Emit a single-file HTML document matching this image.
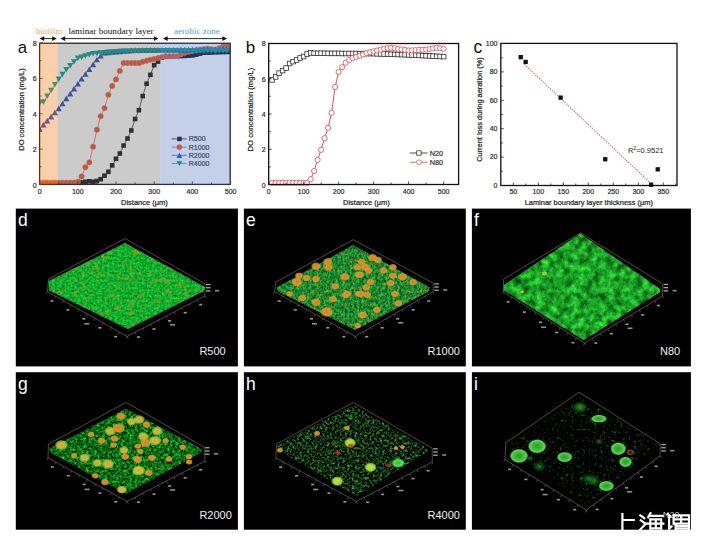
<!DOCTYPE html>
<html><head><meta charset="utf-8"><style>
html,body{margin:0;padding:0;background:#fff;}
body{width:701px;height:541px;overflow:hidden;}
svg{display:block;}
</style></head><body>
<svg width="701" height="541" viewBox="0 0 701 541">
<defs>
<filter id="nG" x="0" y="0" width="100%" height="100%" filterUnits="userSpaceOnUse" color-interpolation-filters="sRGB">
 <feTurbulence type="fractalNoise" baseFrequency="0.4" numOctaves="2" seed="3"/>
 <feColorMatrix values="0.3 0.15 0 0 -0.17  0 0.6 0 0 0.38  0 0.2 0 0 0.08  0 0 0 0 1"/>
 <feGaussianBlur stdDeviation="0.45"/>
</filter>
<filter id="nY" x="0" y="0" width="100%" height="100%" filterUnits="userSpaceOnUse" color-interpolation-filters="sRGB">
 <feTurbulence type="fractalNoise" baseFrequency="0.18" numOctaves="3" seed="11"/>
 <feColorMatrix values="0 0 0 0 0.62  0 0 0 0 0.6  0 0 0 0 0.12  4.5 0 0 0 -2.5"/>
</filter>
<filter id="nE" x="0" y="0" width="100%" height="100%" filterUnits="userSpaceOnUse" color-interpolation-filters="sRGB">
 <feTurbulence type="fractalNoise" baseFrequency="0.42 0.3" numOctaves="3" seed="21"/>
 <feColorMatrix values="0.45 0.25 0 0 -0.25  0 0.8 0 0 0.13  0 0.25 0 0 0.06  0 0 0 0 1"/>
 <feGaussianBlur stdDeviation="0.4"/>
</filter>
<filter id="nF" x="0" y="0" width="100%" height="100%" filterUnits="userSpaceOnUse" color-interpolation-filters="sRGB">
 <feTurbulence type="fractalNoise" baseFrequency="0.14" numOctaves="4" seed="8"/>
 <feColorMatrix values="0 0.3 0 0 -0.04  0 1.05 0 0 0.1  0 0.3 0 0 0.0  0 0 0 0 1"/>
 <feGaussianBlur stdDeviation="0.3"/>
</filter>
<filter id="nGg" x="0" y="0" width="100%" height="100%" filterUnits="userSpaceOnUse" color-interpolation-filters="sRGB">
 <feTurbulence type="fractalNoise" baseFrequency="0.37" numOctaves="3" seed="4"/>
 <feColorMatrix values="0.35 0.25 0 0 -0.27  0 1.25 0 0 -0.2  0 0.25 0 0 -0.05  0 0 0 0 1"/>
 <feGaussianBlur stdDeviation="0.4"/>
</filter>
<filter id="nH" x="0" y="0" width="100%" height="100%" filterUnits="userSpaceOnUse" color-interpolation-filters="sRGB">
 <feTurbulence type="fractalNoise" baseFrequency="0.4" numOctaves="3" seed="12"/>
 <feColorMatrix values="0.6 0.3 0 0 -0.42  0 1.7 0 0 -0.7  0 0.3 0 0 -0.1  0 0 0 0 1"/>
 <feGaussianBlur stdDeviation="0.35"/>
</filter>
<filter id="nI" x="0" y="0" width="100%" height="100%" filterUnits="userSpaceOnUse" color-interpolation-filters="sRGB">
 <feTurbulence type="fractalNoise" baseFrequency="0.35" numOctaves="3" seed="15"/>
 <feColorMatrix values="0 0.3 0 0 -0.22  0 1.7 0 0 -1.0  0 0.3 0 0 -0.17  0 0 0 0 1"/>
 <feGaussianBlur stdDeviation="0.4"/>
</filter>
<filter id="nO" x="0" y="0" width="100%" height="100%" filterUnits="userSpaceOnUse" color-interpolation-filters="sRGB">
 <feTurbulence type="fractalNoise" baseFrequency="0.3" numOctaves="2" seed="31"/>
 <feColorMatrix values="0 0 0 0 0.9  0 0 0 0 0.5  0 0 0 0 0.12  5 0 0 0 -3.0"/>
 <feGaussianBlur stdDeviation="0.4"/>
</filter>
<filter id="bl1"><feGaussianBlur stdDeviation="0.6"/></filter>
<radialGradient id="gO"><stop offset="0" stop-color="#e86a22"/><stop offset="0.45" stop-color="#ee8a26"/><stop offset="0.75" stop-color="#c8a830" stop-opacity="0.75"/><stop offset="1" stop-color="#80a030" stop-opacity="0"/></radialGradient>
<radialGradient id="gY"><stop offset="0" stop-color="#e89030"/><stop offset="0.45" stop-color="#d8c040" stop-opacity="0.95"/><stop offset="0.78" stop-color="#a0c840" stop-opacity="0.7"/><stop offset="1" stop-color="#60b030" stop-opacity="0"/></radialGradient>
<radialGradient id="gGr"><stop offset="0" stop-color="#38b838"/><stop offset="0.65" stop-color="#58e050"/><stop offset="0.85" stop-color="#40c040" stop-opacity="0.8"/><stop offset="1" stop-color="#30b030" stop-opacity="0"/></radialGradient>
<radialGradient id="gRing"><stop offset="0" stop-color="#2a9a2a"/><stop offset="0.5" stop-color="#40b83a"/><stop offset="0.8" stop-color="#5ada50"/><stop offset="1" stop-color="#40c040" stop-opacity="0"/></radialGradient>
<radialGradient id="gGd"><stop offset="0" stop-color="#2a9a2a" stop-opacity="0.8"/><stop offset="1" stop-color="#1a6a1a" stop-opacity="0.1"/></radialGradient>
<radialGradient id="gYG"><stop offset="0" stop-color="#d0e040"/><stop offset="0.7" stop-color="#a0d040"/><stop offset="1" stop-color="#60b030" stop-opacity="0.3"/></radialGradient>
<radialGradient id="gR"><stop offset="0" stop-color="#e03020"/><stop offset="1" stop-color="#a02010" stop-opacity="0.3"/></radialGradient>
<radialGradient id="gBr"><stop offset="0" stop-color="#602010" stop-opacity="0.3"/><stop offset="0.7" stop-color="#a04020"/><stop offset="1" stop-color="#602010" stop-opacity="0.2"/></radialGradient>
</defs>
<rect width="701" height="541" fill="#fff"/>
<clipPath id="clipA"><rect x="39.6" y="42.3" width="190.6" height="142.1"/></clipPath>
<g clip-path="url(#clipA)">
<polyline points="39.6,183.6 43.4,183.6 47.2,183.5 51.1,183.5 54.9,183.4 58.7,183.4 62.5,183.3 66.3,183.2 70.2,183.2 74.0,183.1 77.8,183.1 81.6,182.4 85.4,181.8 89.3,181.3 93.1,181.8 96.9,181.0 100.7,179.2 104.5,175.7 108.4,171.8 112.2,165.4 116.0,158.8 119.8,153.5 123.6,145.6 127.5,138.5 131.3,130.5 135.1,119.0 138.9,110.2 142.7,96.0 146.6,83.7 150.4,74.8 154.2,65.1 158.0,61.6 161.8,57.7 165.7,56.8 169.5,56.6 173.3,56.4 177.1,56.2 180.9,56.1 184.8,55.9 188.6,55.7 192.4,55.5 196.2,54.7 200.0,53.7 203.9,52.7 207.7,52.6 211.5,52.5 215.3,52.3 219.1,52.2 223.0,52.1 226.8,52.0 230.6,51.8" fill="none" stroke="#111" stroke-width="0.7"/>
<rect x="37.3" y="181.3" width="4.6" height="4.6" fill="#111" stroke="none" stroke-width="0"/>
<rect x="41.1" y="181.3" width="4.6" height="4.6" fill="#111" stroke="none" stroke-width="0"/>
<rect x="44.9" y="181.2" width="4.6" height="4.6" fill="#111" stroke="none" stroke-width="0"/>
<rect x="48.8" y="181.2" width="4.6" height="4.6" fill="#111" stroke="none" stroke-width="0"/>
<rect x="52.6" y="181.1" width="4.6" height="4.6" fill="#111" stroke="none" stroke-width="0"/>
<rect x="56.4" y="181.1" width="4.6" height="4.6" fill="#111" stroke="none" stroke-width="0"/>
<rect x="60.2" y="181.0" width="4.6" height="4.6" fill="#111" stroke="none" stroke-width="0"/>
<rect x="64.0" y="180.9" width="4.6" height="4.6" fill="#111" stroke="none" stroke-width="0"/>
<rect x="67.9" y="180.9" width="4.6" height="4.6" fill="#111" stroke="none" stroke-width="0"/>
<rect x="71.7" y="180.8" width="4.6" height="4.6" fill="#111" stroke="none" stroke-width="0"/>
<rect x="75.5" y="180.8" width="4.6" height="4.6" fill="#111" stroke="none" stroke-width="0"/>
<rect x="79.3" y="180.1" width="4.6" height="4.6" fill="#111" stroke="none" stroke-width="0"/>
<rect x="83.1" y="179.5" width="4.6" height="4.6" fill="#111" stroke="none" stroke-width="0"/>
<rect x="87.0" y="179.0" width="4.6" height="4.6" fill="#111" stroke="none" stroke-width="0"/>
<rect x="90.8" y="179.5" width="4.6" height="4.6" fill="#111" stroke="none" stroke-width="0"/>
<rect x="94.6" y="178.7" width="4.6" height="4.6" fill="#111" stroke="none" stroke-width="0"/>
<rect x="98.4" y="176.9" width="4.6" height="4.6" fill="#111" stroke="none" stroke-width="0"/>
<rect x="102.2" y="173.4" width="4.6" height="4.6" fill="#111" stroke="none" stroke-width="0"/>
<rect x="106.1" y="169.5" width="4.6" height="4.6" fill="#111" stroke="none" stroke-width="0"/>
<rect x="109.9" y="163.1" width="4.6" height="4.6" fill="#111" stroke="none" stroke-width="0"/>
<rect x="113.7" y="156.5" width="4.6" height="4.6" fill="#111" stroke="none" stroke-width="0"/>
<rect x="117.5" y="151.2" width="4.6" height="4.6" fill="#111" stroke="none" stroke-width="0"/>
<rect x="121.3" y="143.3" width="4.6" height="4.6" fill="#111" stroke="none" stroke-width="0"/>
<rect x="125.2" y="136.2" width="4.6" height="4.6" fill="#111" stroke="none" stroke-width="0"/>
<rect x="129.0" y="128.2" width="4.6" height="4.6" fill="#111" stroke="none" stroke-width="0"/>
<rect x="132.8" y="116.7" width="4.6" height="4.6" fill="#111" stroke="none" stroke-width="0"/>
<rect x="136.6" y="107.9" width="4.6" height="4.6" fill="#111" stroke="none" stroke-width="0"/>
<rect x="140.4" y="93.8" width="4.6" height="4.6" fill="#111" stroke="none" stroke-width="0"/>
<rect x="144.3" y="81.4" width="4.6" height="4.6" fill="#111" stroke="none" stroke-width="0"/>
<rect x="148.1" y="72.5" width="4.6" height="4.6" fill="#111" stroke="none" stroke-width="0"/>
<rect x="151.9" y="62.8" width="4.6" height="4.6" fill="#111" stroke="none" stroke-width="0"/>
<rect x="155.7" y="59.3" width="4.6" height="4.6" fill="#111" stroke="none" stroke-width="0"/>
<rect x="159.5" y="55.4" width="4.6" height="4.6" fill="#111" stroke="none" stroke-width="0"/>
<rect x="163.4" y="54.5" width="4.6" height="4.6" fill="#111" stroke="none" stroke-width="0"/>
<rect x="167.2" y="54.3" width="4.6" height="4.6" fill="#111" stroke="none" stroke-width="0"/>
<rect x="171.0" y="54.1" width="4.6" height="4.6" fill="#111" stroke="none" stroke-width="0"/>
<rect x="174.8" y="53.9" width="4.6" height="4.6" fill="#111" stroke="none" stroke-width="0"/>
<rect x="178.6" y="53.8" width="4.6" height="4.6" fill="#111" stroke="none" stroke-width="0"/>
<rect x="182.5" y="53.6" width="4.6" height="4.6" fill="#111" stroke="none" stroke-width="0"/>
<rect x="186.3" y="53.4" width="4.6" height="4.6" fill="#111" stroke="none" stroke-width="0"/>
<rect x="190.1" y="53.2" width="4.6" height="4.6" fill="#111" stroke="none" stroke-width="0"/>
<rect x="193.9" y="52.4" width="4.6" height="4.6" fill="#111" stroke="none" stroke-width="0"/>
<rect x="197.7" y="51.4" width="4.6" height="4.6" fill="#111" stroke="none" stroke-width="0"/>
<rect x="201.6" y="50.4" width="4.6" height="4.6" fill="#111" stroke="none" stroke-width="0"/>
<rect x="205.4" y="50.3" width="4.6" height="4.6" fill="#111" stroke="none" stroke-width="0"/>
<rect x="209.2" y="50.2" width="4.6" height="4.6" fill="#111" stroke="none" stroke-width="0"/>
<rect x="213.0" y="50.0" width="4.6" height="4.6" fill="#111" stroke="none" stroke-width="0"/>
<rect x="216.8" y="49.9" width="4.6" height="4.6" fill="#111" stroke="none" stroke-width="0"/>
<rect x="220.7" y="49.8" width="4.6" height="4.6" fill="#111" stroke="none" stroke-width="0"/>
<rect x="224.5" y="49.7" width="4.6" height="4.6" fill="#111" stroke="none" stroke-width="0"/>
<rect x="228.3" y="49.5" width="4.6" height="4.6" fill="#111" stroke="none" stroke-width="0"/>
<polyline points="39.6,182.7 43.4,182.7 47.2,182.7 51.1,182.7 54.9,182.7 58.7,182.7 62.5,182.7 66.3,182.7 70.2,182.7 74.0,182.7 77.8,181.8 81.6,176.5 85.4,167.2 89.3,162.4 93.1,146.8 96.9,129.8 100.7,116.2 104.5,108.1 108.4,94.8 112.2,86.0 116.0,79.4 119.8,70.9 123.6,63.0 127.5,63.0 131.3,63.0 135.1,63.0 138.9,63.0 142.7,61.8 146.6,60.7 150.4,59.8 154.2,58.9 158.0,58.0 161.8,57.1 165.7,56.2 169.5,56.2 173.3,56.1 177.1,56.1 180.9,54.4 184.8,52.7 188.6,51.8 192.4,50.9 196.2,50.3 200.0,49.7 203.9,49.2 207.7,48.6 211.5,49.2 215.3,49.7 219.1,48.1 223.0,46.5 226.8,46.3 230.6,46.2" fill="none" stroke="#e2502c" stroke-width="0.7"/>
<circle cx="39.6" cy="182.7" r="2.7" fill="#e2502c" stroke="#f07a5a" stroke-width="0.5"/>
<circle cx="43.4" cy="182.7" r="2.7" fill="#e2502c" stroke="#f07a5a" stroke-width="0.5"/>
<circle cx="47.2" cy="182.7" r="2.7" fill="#e2502c" stroke="#f07a5a" stroke-width="0.5"/>
<circle cx="51.1" cy="182.7" r="2.7" fill="#e2502c" stroke="#f07a5a" stroke-width="0.5"/>
<circle cx="54.9" cy="182.7" r="2.7" fill="#e2502c" stroke="#f07a5a" stroke-width="0.5"/>
<circle cx="58.7" cy="182.7" r="2.7" fill="#e2502c" stroke="#f07a5a" stroke-width="0.5"/>
<circle cx="62.5" cy="182.7" r="2.7" fill="#e2502c" stroke="#f07a5a" stroke-width="0.5"/>
<circle cx="66.3" cy="182.7" r="2.7" fill="#e2502c" stroke="#f07a5a" stroke-width="0.5"/>
<circle cx="70.2" cy="182.7" r="2.7" fill="#e2502c" stroke="#f07a5a" stroke-width="0.5"/>
<circle cx="74.0" cy="182.7" r="2.7" fill="#e2502c" stroke="#f07a5a" stroke-width="0.5"/>
<circle cx="77.8" cy="181.8" r="2.7" fill="#e2502c" stroke="#f07a5a" stroke-width="0.5"/>
<circle cx="81.6" cy="176.5" r="2.7" fill="#e2502c" stroke="#f07a5a" stroke-width="0.5"/>
<circle cx="85.4" cy="167.2" r="2.7" fill="#e2502c" stroke="#f07a5a" stroke-width="0.5"/>
<circle cx="89.3" cy="162.4" r="2.7" fill="#e2502c" stroke="#f07a5a" stroke-width="0.5"/>
<circle cx="93.1" cy="146.8" r="2.7" fill="#e2502c" stroke="#f07a5a" stroke-width="0.5"/>
<circle cx="96.9" cy="129.8" r="2.7" fill="#e2502c" stroke="#f07a5a" stroke-width="0.5"/>
<circle cx="100.7" cy="116.2" r="2.7" fill="#e2502c" stroke="#f07a5a" stroke-width="0.5"/>
<circle cx="104.5" cy="108.1" r="2.7" fill="#e2502c" stroke="#f07a5a" stroke-width="0.5"/>
<circle cx="108.4" cy="94.8" r="2.7" fill="#e2502c" stroke="#f07a5a" stroke-width="0.5"/>
<circle cx="112.2" cy="86.0" r="2.7" fill="#e2502c" stroke="#f07a5a" stroke-width="0.5"/>
<circle cx="116.0" cy="79.4" r="2.7" fill="#e2502c" stroke="#f07a5a" stroke-width="0.5"/>
<circle cx="119.8" cy="70.9" r="2.7" fill="#e2502c" stroke="#f07a5a" stroke-width="0.5"/>
<circle cx="123.6" cy="63.0" r="2.7" fill="#e2502c" stroke="#f07a5a" stroke-width="0.5"/>
<circle cx="127.5" cy="63.0" r="2.7" fill="#e2502c" stroke="#f07a5a" stroke-width="0.5"/>
<circle cx="131.3" cy="63.0" r="2.7" fill="#e2502c" stroke="#f07a5a" stroke-width="0.5"/>
<circle cx="135.1" cy="63.0" r="2.7" fill="#e2502c" stroke="#f07a5a" stroke-width="0.5"/>
<circle cx="138.9" cy="63.0" r="2.7" fill="#e2502c" stroke="#f07a5a" stroke-width="0.5"/>
<circle cx="142.7" cy="61.8" r="2.7" fill="#e2502c" stroke="#f07a5a" stroke-width="0.5"/>
<circle cx="146.6" cy="60.7" r="2.7" fill="#e2502c" stroke="#f07a5a" stroke-width="0.5"/>
<circle cx="150.4" cy="59.8" r="2.7" fill="#e2502c" stroke="#f07a5a" stroke-width="0.5"/>
<circle cx="154.2" cy="58.9" r="2.7" fill="#e2502c" stroke="#f07a5a" stroke-width="0.5"/>
<circle cx="158.0" cy="58.0" r="2.7" fill="#e2502c" stroke="#f07a5a" stroke-width="0.5"/>
<circle cx="161.8" cy="57.1" r="2.7" fill="#e2502c" stroke="#f07a5a" stroke-width="0.5"/>
<circle cx="165.7" cy="56.2" r="2.7" fill="#e2502c" stroke="#f07a5a" stroke-width="0.5"/>
<circle cx="169.5" cy="56.2" r="2.7" fill="#e2502c" stroke="#f07a5a" stroke-width="0.5"/>
<circle cx="173.3" cy="56.1" r="2.7" fill="#e2502c" stroke="#f07a5a" stroke-width="0.5"/>
<circle cx="177.1" cy="56.1" r="2.7" fill="#e2502c" stroke="#f07a5a" stroke-width="0.5"/>
<circle cx="180.9" cy="54.4" r="2.7" fill="#e2502c" stroke="#f07a5a" stroke-width="0.5"/>
<circle cx="184.8" cy="52.7" r="2.7" fill="#e2502c" stroke="#f07a5a" stroke-width="0.5"/>
<circle cx="188.6" cy="51.8" r="2.7" fill="#e2502c" stroke="#f07a5a" stroke-width="0.5"/>
<circle cx="192.4" cy="50.9" r="2.7" fill="#e2502c" stroke="#f07a5a" stroke-width="0.5"/>
<circle cx="196.2" cy="50.3" r="2.7" fill="#e2502c" stroke="#f07a5a" stroke-width="0.5"/>
<circle cx="200.0" cy="49.7" r="2.7" fill="#e2502c" stroke="#f07a5a" stroke-width="0.5"/>
<circle cx="203.9" cy="49.2" r="2.7" fill="#e2502c" stroke="#f07a5a" stroke-width="0.5"/>
<circle cx="207.7" cy="48.6" r="2.7" fill="#e2502c" stroke="#f07a5a" stroke-width="0.5"/>
<circle cx="211.5" cy="49.2" r="2.7" fill="#e2502c" stroke="#f07a5a" stroke-width="0.5"/>
<circle cx="215.3" cy="49.7" r="2.7" fill="#e2502c" stroke="#f07a5a" stroke-width="0.5"/>
<circle cx="219.1" cy="48.1" r="2.7" fill="#e2502c" stroke="#f07a5a" stroke-width="0.5"/>
<circle cx="223.0" cy="46.5" r="2.7" fill="#e2502c" stroke="#f07a5a" stroke-width="0.5"/>
<circle cx="226.8" cy="46.3" r="2.7" fill="#e2502c" stroke="#f07a5a" stroke-width="0.5"/>
<circle cx="230.6" cy="46.2" r="2.7" fill="#e2502c" stroke="#f07a5a" stroke-width="0.5"/>
<polyline points="39.6,128.8 43.4,124.7 47.2,120.6 51.1,116.6 54.9,112.5 58.7,108.4 62.5,103.5 66.3,98.5 70.2,93.6 74.0,88.6 77.8,83.7 81.6,78.8 85.4,74.0 89.3,69.2 93.1,64.4 96.9,59.5 100.7,55.7 104.5,52.7 108.4,52.4 112.2,52.0 116.0,51.7 119.8,51.4 123.6,51.1 127.5,50.7 131.3,50.4 135.1,50.1 138.9,50.0 142.7,50.0 146.6,49.9 150.4,49.9 154.2,49.9 158.0,49.8 161.8,49.8 165.7,49.8 169.5,49.7 173.3,49.7 177.1,49.7 180.9,49.6 184.8,49.6 188.6,49.6 192.4,49.5 196.2,49.5 200.0,49.5 203.9,49.4 207.7,49.4 211.5,49.3 215.3,49.3 219.1,49.3 223.0,49.2 226.8,49.2 230.6,49.2" fill="none" stroke="#2c46b4" stroke-width="0.7"/>
<polygon points="36.5,131.6 42.7,131.6 39.6,126.0" fill="#2c46b4"/>
<polygon points="40.3,127.5 46.5,127.5 43.4,121.9" fill="#2c46b4"/>
<polygon points="44.1,123.4 50.3,123.4 47.2,117.8" fill="#2c46b4"/>
<polygon points="48.0,119.4 54.2,119.4 51.1,113.8" fill="#2c46b4"/>
<polygon points="51.8,115.3 58.0,115.3 54.9,109.7" fill="#2c46b4"/>
<polygon points="55.6,111.2 61.8,111.2 58.7,105.6" fill="#2c46b4"/>
<polygon points="59.4,106.3 65.6,106.3 62.5,100.7" fill="#2c46b4"/>
<polygon points="63.2,101.3 69.4,101.3 66.3,95.7" fill="#2c46b4"/>
<polygon points="67.1,96.4 73.3,96.4 70.2,90.8" fill="#2c46b4"/>
<polygon points="70.9,91.4 77.1,91.4 74.0,85.8" fill="#2c46b4"/>
<polygon points="74.7,86.5 80.9,86.5 77.8,80.9" fill="#2c46b4"/>
<polygon points="78.5,81.6 84.7,81.6 81.6,76.1" fill="#2c46b4"/>
<polygon points="82.3,76.8 88.5,76.8 85.4,71.2" fill="#2c46b4"/>
<polygon points="86.2,72.0 92.4,72.0 89.3,66.4" fill="#2c46b4"/>
<polygon points="90.0,67.2 96.2,67.2 93.1,61.6" fill="#2c46b4"/>
<polygon points="93.8,62.3 100.0,62.3 96.9,56.8" fill="#2c46b4"/>
<polygon points="97.6,58.4 103.8,58.4 100.7,52.9" fill="#2c46b4"/>
<polygon points="101.4,55.5 107.6,55.5 104.5,49.9" fill="#2c46b4"/>
<polygon points="105.3,55.2 111.5,55.2 108.4,49.6" fill="#2c46b4"/>
<polygon points="109.1,54.8 115.3,54.8 112.2,49.3" fill="#2c46b4"/>
<polygon points="112.9,54.5 119.1,54.5 116.0,48.9" fill="#2c46b4"/>
<polygon points="116.7,54.2 122.9,54.2 119.8,48.6" fill="#2c46b4"/>
<polygon points="120.5,53.8 126.7,53.8 123.6,48.3" fill="#2c46b4"/>
<polygon points="124.4,53.5 130.6,53.5 127.5,47.9" fill="#2c46b4"/>
<polygon points="128.2,53.2 134.4,53.2 131.3,47.6" fill="#2c46b4"/>
<polygon points="132.0,52.8 138.2,52.8 135.1,47.3" fill="#2c46b4"/>
<polygon points="135.8,52.8 142.0,52.8 138.9,47.2" fill="#2c46b4"/>
<polygon points="139.6,52.8 145.8,52.8 142.7,47.2" fill="#2c46b4"/>
<polygon points="143.5,52.7 149.7,52.7 146.6,47.2" fill="#2c46b4"/>
<polygon points="147.3,52.7 153.5,52.7 150.4,47.1" fill="#2c46b4"/>
<polygon points="151.1,52.7 157.3,52.7 154.2,47.1" fill="#2c46b4"/>
<polygon points="154.9,52.6 161.1,52.6 158.0,47.1" fill="#2c46b4"/>
<polygon points="158.7,52.6 164.9,52.6 161.8,47.0" fill="#2c46b4"/>
<polygon points="162.6,52.6 168.8,52.6 165.7,47.0" fill="#2c46b4"/>
<polygon points="166.4,52.5 172.6,52.5 169.5,46.9" fill="#2c46b4"/>
<polygon points="170.2,52.5 176.4,52.5 173.3,46.9" fill="#2c46b4"/>
<polygon points="174.0,52.5 180.2,52.5 177.1,46.9" fill="#2c46b4"/>
<polygon points="177.8,52.4 184.0,52.4 180.9,46.8" fill="#2c46b4"/>
<polygon points="181.7,52.4 187.9,52.4 184.8,46.8" fill="#2c46b4"/>
<polygon points="185.5,52.4 191.7,52.4 188.6,46.8" fill="#2c46b4"/>
<polygon points="189.3,52.3 195.5,52.3 192.4,46.7" fill="#2c46b4"/>
<polygon points="193.1,52.3 199.3,52.3 196.2,46.7" fill="#2c46b4"/>
<polygon points="196.9,52.2 203.1,52.2 200.0,46.7" fill="#2c46b4"/>
<polygon points="200.8,52.2 207.0,52.2 203.9,46.6" fill="#2c46b4"/>
<polygon points="204.6,52.2 210.8,52.2 207.7,46.6" fill="#2c46b4"/>
<polygon points="208.4,52.1 214.6,52.1 211.5,46.6" fill="#2c46b4"/>
<polygon points="212.2,52.1 218.4,52.1 215.3,46.5" fill="#2c46b4"/>
<polygon points="216.0,52.1 222.2,52.1 219.1,46.5" fill="#2c46b4"/>
<polygon points="219.9,52.0 226.1,52.0 223.0,46.5" fill="#2c46b4"/>
<polygon points="223.7,52.0 229.9,52.0 226.8,46.4" fill="#2c46b4"/>
<polygon points="227.5,52.0 233.7,52.0 230.6,46.4" fill="#2c46b4"/>
<polyline points="39.6,103.1 43.4,102.1 47.2,96.3 51.1,90.5 54.9,84.7 58.7,79.2 62.5,74.5 66.3,69.8 70.2,65.8 74.0,62.0 77.8,58.4 81.6,57.2 85.4,56.0 89.3,54.8 93.1,53.8 96.9,53.5 100.7,53.1 104.5,52.8 108.4,52.4 112.2,52.1 116.0,51.7 119.8,51.4 123.6,51.4 127.5,51.3 131.3,51.2 135.1,51.1 138.9,51.1 142.7,51.0 146.6,50.9 150.4,50.8 154.2,50.8 158.0,50.8 161.8,50.8 165.7,50.8 169.5,50.8 173.3,50.8 177.1,50.8 180.9,50.8 184.8,50.8 188.6,50.8 192.4,50.8 196.2,50.8 200.0,50.8 203.9,50.8 207.7,50.8 211.5,50.8 215.3,50.8 219.1,50.8 223.0,50.8 226.8,50.8 230.6,50.8" fill="none" stroke="#009a96" stroke-width="0.7"/>
<polygon points="36.5,100.3 42.7,100.3 39.6,105.9" fill="#009a96"/>
<polygon points="40.3,99.3 46.5,99.3 43.4,104.9" fill="#009a96"/>
<polygon points="44.1,93.5 50.3,93.5 47.2,99.1" fill="#009a96"/>
<polygon points="48.0,87.7 54.2,87.7 51.1,93.3" fill="#009a96"/>
<polygon points="51.8,82.0 58.0,82.0 54.9,87.5" fill="#009a96"/>
<polygon points="55.6,76.4 61.8,76.4 58.7,82.0" fill="#009a96"/>
<polygon points="59.4,71.7 65.6,71.7 62.5,77.3" fill="#009a96"/>
<polygon points="63.2,67.0 69.4,67.0 66.3,72.5" fill="#009a96"/>
<polygon points="67.1,63.0 73.3,63.0 70.2,68.6" fill="#009a96"/>
<polygon points="70.9,59.2 77.1,59.2 74.0,64.8" fill="#009a96"/>
<polygon points="74.7,55.6 80.9,55.6 77.8,61.2" fill="#009a96"/>
<polygon points="78.5,54.4 84.7,54.4 81.6,60.0" fill="#009a96"/>
<polygon points="82.3,53.2 88.5,53.2 85.4,58.8" fill="#009a96"/>
<polygon points="86.2,52.0 92.4,52.0 89.3,57.6" fill="#009a96"/>
<polygon points="90.0,51.1 96.2,51.1 93.1,56.6" fill="#009a96"/>
<polygon points="93.8,50.7 100.0,50.7 96.9,56.3" fill="#009a96"/>
<polygon points="97.6,50.3 103.8,50.3 100.7,55.9" fill="#009a96"/>
<polygon points="101.4,50.0 107.6,50.0 104.5,55.6" fill="#009a96"/>
<polygon points="105.3,49.6 111.5,49.6 108.4,55.2" fill="#009a96"/>
<polygon points="109.1,49.3 115.3,49.3 112.2,54.9" fill="#009a96"/>
<polygon points="112.9,48.9 119.1,48.9 116.0,54.5" fill="#009a96"/>
<polygon points="116.7,48.7 122.9,48.7 119.8,54.2" fill="#009a96"/>
<polygon points="120.5,48.6 126.7,48.6 123.6,54.2" fill="#009a96"/>
<polygon points="124.4,48.5 130.6,48.5 127.5,54.1" fill="#009a96"/>
<polygon points="128.2,48.4 134.4,48.4 131.3,54.0" fill="#009a96"/>
<polygon points="132.0,48.4 138.2,48.4 135.1,53.9" fill="#009a96"/>
<polygon points="135.8,48.3 142.0,48.3 138.9,53.9" fill="#009a96"/>
<polygon points="139.6,48.2 145.8,48.2 142.7,53.8" fill="#009a96"/>
<polygon points="143.5,48.1 149.7,48.1 146.6,53.7" fill="#009a96"/>
<polygon points="147.3,48.0 153.5,48.0 150.4,53.6" fill="#009a96"/>
<polygon points="151.1,48.0 157.3,48.0 154.2,53.6" fill="#009a96"/>
<polygon points="154.9,48.0 161.1,48.0 158.0,53.6" fill="#009a96"/>
<polygon points="158.7,48.0 164.9,48.0 161.8,53.6" fill="#009a96"/>
<polygon points="162.6,48.0 168.8,48.0 165.7,53.6" fill="#009a96"/>
<polygon points="166.4,48.0 172.6,48.0 169.5,53.6" fill="#009a96"/>
<polygon points="170.2,48.0 176.4,48.0 173.3,53.6" fill="#009a96"/>
<polygon points="174.0,48.0 180.2,48.0 177.1,53.6" fill="#009a96"/>
<polygon points="177.8,48.0 184.0,48.0 180.9,53.6" fill="#009a96"/>
<polygon points="181.7,48.0 187.9,48.0 184.8,53.6" fill="#009a96"/>
<polygon points="185.5,48.0 191.7,48.0 188.6,53.6" fill="#009a96"/>
<polygon points="189.3,48.0 195.5,48.0 192.4,53.6" fill="#009a96"/>
<polygon points="193.1,48.0 199.3,48.0 196.2,53.6" fill="#009a96"/>
<polygon points="196.9,48.0 203.1,48.0 200.0,53.6" fill="#009a96"/>
<polygon points="200.8,48.0 207.0,48.0 203.9,53.6" fill="#009a96"/>
<polygon points="204.6,48.0 210.8,48.0 207.7,53.6" fill="#009a96"/>
<polygon points="208.4,48.0 214.6,48.0 211.5,53.6" fill="#009a96"/>
<polygon points="212.2,48.0 218.4,48.0 215.3,53.6" fill="#009a96"/>
<polygon points="216.0,48.0 222.2,48.0 219.1,53.6" fill="#009a96"/>
<polygon points="219.9,48.0 226.1,48.0 223.0,53.6" fill="#009a96"/>
<polygon points="223.7,48.0 229.9,48.0 226.8,53.6" fill="#009a96"/>
<polygon points="227.5,48.0 233.7,48.0 230.6,53.6" fill="#009a96"/>
</g>
<rect x="39.6" y="43.3" width="190.6" height="141.1" fill="none" stroke="#111" stroke-width="1.3"/>
<line x1="39.6" y1="184.5" x2="42.6" y2="184.5" stroke="#222" stroke-width="0.8"/>
<line x1="39.6" y1="166.8" x2="41.6" y2="166.8" stroke="#222" stroke-width="0.8"/>
<line x1="39.6" y1="149.1" x2="42.6" y2="149.1" stroke="#222" stroke-width="0.8"/>
<line x1="39.6" y1="131.4" x2="41.6" y2="131.4" stroke="#222" stroke-width="0.8"/>
<line x1="39.6" y1="113.7" x2="42.6" y2="113.7" stroke="#222" stroke-width="0.8"/>
<line x1="39.6" y1="96.0" x2="41.6" y2="96.0" stroke="#222" stroke-width="0.8"/>
<line x1="39.6" y1="78.4" x2="42.6" y2="78.4" stroke="#222" stroke-width="0.8"/>
<line x1="39.6" y1="60.7" x2="41.6" y2="60.7" stroke="#222" stroke-width="0.8"/>
<line x1="39.6" y1="43.0" x2="42.6" y2="43.0" stroke="#222" stroke-width="0.8"/>
<line x1="39.6" y1="184.4" x2="39.6" y2="181.4" stroke="#222" stroke-width="0.8"/>
<line x1="58.7" y1="184.4" x2="58.7" y2="182.4" stroke="#222" stroke-width="0.8"/>
<line x1="77.8" y1="184.4" x2="77.8" y2="181.4" stroke="#222" stroke-width="0.8"/>
<line x1="96.9" y1="184.4" x2="96.9" y2="182.4" stroke="#222" stroke-width="0.8"/>
<line x1="116.0" y1="184.4" x2="116.0" y2="181.4" stroke="#222" stroke-width="0.8"/>
<line x1="135.1" y1="184.4" x2="135.1" y2="182.4" stroke="#222" stroke-width="0.8"/>
<line x1="154.2" y1="184.4" x2="154.2" y2="181.4" stroke="#222" stroke-width="0.8"/>
<line x1="173.3" y1="184.4" x2="173.3" y2="182.4" stroke="#222" stroke-width="0.8"/>
<line x1="192.4" y1="184.4" x2="192.4" y2="181.4" stroke="#222" stroke-width="0.8"/>
<line x1="211.5" y1="184.4" x2="211.5" y2="182.4" stroke="#222" stroke-width="0.8"/>
<line x1="230.6" y1="184.4" x2="230.6" y2="181.4" stroke="#222" stroke-width="0.8"/>
<text x="36.7" y="187.5" font-size="7" fill="#333" stroke="#333" stroke-width="0.22" text-anchor="end" font-family="Liberation Sans, sans-serif" >0</text>
<text x="36.7" y="152.12" font-size="7" fill="#333" stroke="#333" stroke-width="0.22" text-anchor="end" font-family="Liberation Sans, sans-serif" >2</text>
<text x="36.7" y="116.74" font-size="7" fill="#333" stroke="#333" stroke-width="0.22" text-anchor="end" font-family="Liberation Sans, sans-serif" >4</text>
<text x="36.7" y="81.35999999999999" font-size="7" fill="#333" stroke="#333" stroke-width="0.22" text-anchor="end" font-family="Liberation Sans, sans-serif" >6</text>
<text x="36.7" y="45.97999999999999" font-size="7" fill="#333" stroke="#333" stroke-width="0.22" text-anchor="end" font-family="Liberation Sans, sans-serif" >8</text>
<text x="39.6" y="193.5" font-size="7" fill="#333" stroke="#333" stroke-width="0.22" text-anchor="middle" font-family="Liberation Sans, sans-serif" >0</text>
<text x="77.80000000000001" y="193.5" font-size="7" fill="#333" stroke="#333" stroke-width="0.22" text-anchor="middle" font-family="Liberation Sans, sans-serif" >100</text>
<text x="116.0" y="193.5" font-size="7" fill="#333" stroke="#333" stroke-width="0.22" text-anchor="middle" font-family="Liberation Sans, sans-serif" >200</text>
<text x="154.20000000000002" y="193.5" font-size="7" fill="#333" stroke="#333" stroke-width="0.22" text-anchor="middle" font-family="Liberation Sans, sans-serif" >300</text>
<text x="192.4" y="193.5" font-size="7" fill="#333" stroke="#333" stroke-width="0.22" text-anchor="middle" font-family="Liberation Sans, sans-serif" >400</text>
<text x="230.6" y="193.5" font-size="7" fill="#333" stroke="#333" stroke-width="0.22" text-anchor="middle" font-family="Liberation Sans, sans-serif" >500</text>
<text x="144.4" y="205.4" font-size="7.5" fill="#222" stroke="#222" stroke-width="0.22" text-anchor="middle" font-family="Liberation Sans, sans-serif" >Distance (&#956;m)</text>
<text x="0" y="0" font-size="7.56" fill="#222" stroke="#222" stroke-width="0.22" text-anchor="middle" font-family="Liberation Sans, sans-serif" transform="translate(24.2,109.5) rotate(-90)">DO concentration (mg/L)</text>
<line x1="171.8" y1="138.9" x2="186.7" y2="138.9" stroke="#111" stroke-width="0.8"/>
<rect x="177.2" y="136.7" width="4.5" height="4.5" fill="#111" stroke="none" stroke-width="0"/>
<text x="188.8" y="141.4" font-size="7" fill="#333" stroke="#333" stroke-width="0.22" text-anchor="start" font-family="Liberation Sans, sans-serif" >R500</text>
<line x1="171.8" y1="147.1" x2="186.7" y2="147.1" stroke="#e2502c" stroke-width="0.8"/>
<circle cx="179.4" cy="147.1" r="2.7" fill="#e2502c" stroke="#f07a5a" stroke-width="0.5"/>
<text x="188.8" y="149.6" font-size="7" fill="#333" stroke="#333" stroke-width="0.22" text-anchor="start" font-family="Liberation Sans, sans-serif" >R1000</text>
<line x1="171.8" y1="155.3" x2="186.7" y2="155.3" stroke="#2c46b4" stroke-width="0.8"/>
<polygon points="176.5,157.9 182.3,157.9 179.4,152.7" fill="#2c46b4"/>
<text x="188.8" y="157.8" font-size="7" fill="#333" stroke="#333" stroke-width="0.22" text-anchor="start" font-family="Liberation Sans, sans-serif" >R2000</text>
<line x1="171.8" y1="163.5" x2="186.7" y2="163.5" stroke="#009a96" stroke-width="0.8"/>
<polygon points="176.5,160.9 182.3,160.9 179.4,166.1" fill="#009a96"/>
<text x="188.8" y="166.0" font-size="7" fill="#333" stroke="#333" stroke-width="0.22" text-anchor="start" font-family="Liberation Sans, sans-serif" >R4000</text>
<rect x="39.05" y="42.75" width="18.50" height="142.20" fill="rgb(241,120,18)" fill-opacity="0.35"/>
<rect x="57.55" y="42.75" width="102.75" height="142.20" fill="rgb(106,106,106)" fill-opacity="0.35"/>
<rect x="160.30" y="42.75" width="70.45" height="142.20" fill="rgb(86,121,189)" fill-opacity="0.35"/>
<text x="36" y="34" font-size="9" fill="#f0a868" font-family="Liberation Serif, serif">biofilm</text>
<text x="68.5" y="34.3" font-size="9.15" fill="#111" font-family="Liberation Serif, serif">laminar boundary layer</text>
<text x="174" y="34" font-size="9" fill="#4d9fd6" font-family="Liberation Serif, serif">aerobic zone</text>
<line x1="42.6" y1="38.6" x2="53.8" y2="38.6" stroke="#111" stroke-width="0.9"/><polygon points="39.6,38.6 44.2,36.300000000000004 44.2,40.9" fill="#111"/><polygon points="56.8,38.6 52.199999999999996,36.300000000000004 52.199999999999996,40.9" fill="#111"/>
<line x1="63.5" y1="38.6" x2="155.5" y2="38.6" stroke="#111" stroke-width="0.9"/><polygon points="60.5,38.6 65.1,36.300000000000004 65.1,40.9" fill="#111"/><polygon points="158.5,38.6 153.9,36.300000000000004 153.9,40.9" fill="#111"/>
<line x1="166" y1="38.6" x2="224" y2="38.6" stroke="#111" stroke-width="0.9"/><polygon points="163,38.6 167.6,36.300000000000004 167.6,40.9" fill="#111"/><polygon points="227,38.6 222.4,36.300000000000004 222.4,40.9" fill="#111"/>
<text x="22.3" y="52.8" font-size="16.8" fill="#111" text-anchor="middle" font-family="Liberation Sans, sans-serif">a</text>
<polyline points="272.1,79.9 275.6,76.9 279.1,73.1 282.6,70.6 286.1,68.1 289.6,63.5 293.1,61.6 296.6,60.0 300.1,58.0 303.6,56.5 307.1,54.0 310.6,52.9 314.1,53.3 317.6,53.3 321.1,53.3 324.6,53.3 328.1,53.4 331.6,53.4 335.1,53.4 338.6,53.4 342.1,53.5 345.6,53.5 349.1,53.5 352.6,53.5 356.1,53.5 359.6,53.6 363.1,53.6 366.6,53.6 370.1,53.6 373.6,53.6 377.1,53.8 380.6,53.9 384.1,54.0 387.6,54.1 391.1,54.3 394.6,54.4 398.1,54.5 401.6,54.6 405.1,54.7 408.6,54.9 412.1,55.0 415.6,55.2 419.1,55.4 422.6,55.6 426.1,55.8 429.6,55.9 433.1,56.1 436.6,56.3 440.1,56.5 443.6,56.6" fill="none" stroke="#222" stroke-width="0.7"/>
<polyline points="272.1,182.8 275.6,182.8 279.1,182.8 282.6,182.8 286.1,182.8 289.6,182.8 293.1,182.8 296.6,182.8 300.1,182.8 303.6,182.8 307.1,182.8 310.6,179.3 314.1,171.0 317.6,159.9 321.1,149.8 324.6,138.2 328.1,127.8 331.6,112.8 335.1,87.0 338.6,72.0 342.1,67.2 345.6,62.8 349.1,60.0 352.6,58.0 356.1,57.0 359.6,55.8 363.1,54.4 366.6,53.1 370.1,52.2 373.6,51.3 377.1,50.5 380.6,49.6 384.1,48.7 387.6,48.3 391.1,47.8 394.6,48.3 398.1,48.9 401.6,49.4 405.1,49.9 408.6,50.5 412.1,50.3 415.6,50.1 419.1,49.9 422.6,49.8 426.1,49.6 429.6,49.0 433.1,48.4 436.6,47.8 440.1,48.3 443.6,48.7" fill="none" stroke="#e03c3c" stroke-width="0.9"/>
<rect x="269.8" y="77.6" width="4.6" height="4.6" fill="#fff" stroke="#222" stroke-width="0.75"/>
<rect x="273.3" y="74.6" width="4.6" height="4.6" fill="#fff" stroke="#222" stroke-width="0.75"/>
<rect x="276.8" y="70.8" width="4.6" height="4.6" fill="#fff" stroke="#222" stroke-width="0.75"/>
<rect x="280.3" y="68.3" width="4.6" height="4.6" fill="#fff" stroke="#222" stroke-width="0.75"/>
<rect x="283.8" y="65.8" width="4.6" height="4.6" fill="#fff" stroke="#222" stroke-width="0.75"/>
<rect x="287.3" y="61.2" width="4.6" height="4.6" fill="#fff" stroke="#222" stroke-width="0.75"/>
<rect x="290.8" y="59.3" width="4.6" height="4.6" fill="#fff" stroke="#222" stroke-width="0.75"/>
<rect x="294.3" y="57.7" width="4.6" height="4.6" fill="#fff" stroke="#222" stroke-width="0.75"/>
<rect x="297.8" y="55.7" width="4.6" height="4.6" fill="#fff" stroke="#222" stroke-width="0.75"/>
<rect x="301.3" y="54.2" width="4.6" height="4.6" fill="#fff" stroke="#222" stroke-width="0.75"/>
<rect x="304.8" y="51.7" width="4.6" height="4.6" fill="#fff" stroke="#222" stroke-width="0.75"/>
<rect x="308.3" y="50.6" width="4.6" height="4.6" fill="#fff" stroke="#222" stroke-width="0.75"/>
<rect x="311.8" y="51.0" width="4.6" height="4.6" fill="#fff" stroke="#222" stroke-width="0.75"/>
<rect x="315.3" y="51.0" width="4.6" height="4.6" fill="#fff" stroke="#222" stroke-width="0.75"/>
<rect x="318.8" y="51.0" width="4.6" height="4.6" fill="#fff" stroke="#222" stroke-width="0.75"/>
<rect x="322.3" y="51.0" width="4.6" height="4.6" fill="#fff" stroke="#222" stroke-width="0.75"/>
<rect x="325.8" y="51.1" width="4.6" height="4.6" fill="#fff" stroke="#222" stroke-width="0.75"/>
<rect x="329.3" y="51.1" width="4.6" height="4.6" fill="#fff" stroke="#222" stroke-width="0.75"/>
<rect x="332.8" y="51.1" width="4.6" height="4.6" fill="#fff" stroke="#222" stroke-width="0.75"/>
<rect x="336.3" y="51.1" width="4.6" height="4.6" fill="#fff" stroke="#222" stroke-width="0.75"/>
<rect x="339.8" y="51.2" width="4.6" height="4.6" fill="#fff" stroke="#222" stroke-width="0.75"/>
<rect x="343.3" y="51.2" width="4.6" height="4.6" fill="#fff" stroke="#222" stroke-width="0.75"/>
<rect x="346.8" y="51.2" width="4.6" height="4.6" fill="#fff" stroke="#222" stroke-width="0.75"/>
<rect x="350.3" y="51.2" width="4.6" height="4.6" fill="#fff" stroke="#222" stroke-width="0.75"/>
<rect x="353.8" y="51.2" width="4.6" height="4.6" fill="#fff" stroke="#222" stroke-width="0.75"/>
<rect x="357.3" y="51.3" width="4.6" height="4.6" fill="#fff" stroke="#222" stroke-width="0.75"/>
<rect x="360.8" y="51.3" width="4.6" height="4.6" fill="#fff" stroke="#222" stroke-width="0.75"/>
<rect x="364.3" y="51.3" width="4.6" height="4.6" fill="#fff" stroke="#222" stroke-width="0.75"/>
<rect x="367.8" y="51.3" width="4.6" height="4.6" fill="#fff" stroke="#222" stroke-width="0.75"/>
<rect x="371.3" y="51.3" width="4.6" height="4.6" fill="#fff" stroke="#222" stroke-width="0.75"/>
<rect x="374.8" y="51.5" width="4.6" height="4.6" fill="#fff" stroke="#222" stroke-width="0.75"/>
<rect x="378.3" y="51.6" width="4.6" height="4.6" fill="#fff" stroke="#222" stroke-width="0.75"/>
<rect x="381.8" y="51.7" width="4.6" height="4.6" fill="#fff" stroke="#222" stroke-width="0.75"/>
<rect x="385.3" y="51.8" width="4.6" height="4.6" fill="#fff" stroke="#222" stroke-width="0.75"/>
<rect x="388.8" y="52.0" width="4.6" height="4.6" fill="#fff" stroke="#222" stroke-width="0.75"/>
<rect x="392.3" y="52.1" width="4.6" height="4.6" fill="#fff" stroke="#222" stroke-width="0.75"/>
<rect x="395.8" y="52.2" width="4.6" height="4.6" fill="#fff" stroke="#222" stroke-width="0.75"/>
<rect x="399.3" y="52.3" width="4.6" height="4.6" fill="#fff" stroke="#222" stroke-width="0.75"/>
<rect x="402.8" y="52.4" width="4.6" height="4.6" fill="#fff" stroke="#222" stroke-width="0.75"/>
<rect x="406.3" y="52.6" width="4.6" height="4.6" fill="#fff" stroke="#222" stroke-width="0.75"/>
<rect x="409.8" y="52.7" width="4.6" height="4.6" fill="#fff" stroke="#222" stroke-width="0.75"/>
<rect x="413.3" y="52.9" width="4.6" height="4.6" fill="#fff" stroke="#222" stroke-width="0.75"/>
<rect x="416.8" y="53.1" width="4.6" height="4.6" fill="#fff" stroke="#222" stroke-width="0.75"/>
<rect x="420.3" y="53.3" width="4.6" height="4.6" fill="#fff" stroke="#222" stroke-width="0.75"/>
<rect x="423.8" y="53.5" width="4.6" height="4.6" fill="#fff" stroke="#222" stroke-width="0.75"/>
<rect x="427.3" y="53.6" width="4.6" height="4.6" fill="#fff" stroke="#222" stroke-width="0.75"/>
<rect x="430.8" y="53.8" width="4.6" height="4.6" fill="#fff" stroke="#222" stroke-width="0.75"/>
<rect x="434.3" y="54.0" width="4.6" height="4.6" fill="#fff" stroke="#222" stroke-width="0.75"/>
<rect x="437.8" y="54.2" width="4.6" height="4.6" fill="#fff" stroke="#222" stroke-width="0.75"/>
<rect x="441.3" y="54.3" width="4.6" height="4.6" fill="#fff" stroke="#222" stroke-width="0.75"/>
<circle cx="272.1" cy="182.8" r="2.6" fill="#fff" stroke="#e04848" stroke-width="0.8"/>
<circle cx="275.6" cy="182.8" r="2.6" fill="#fff" stroke="#e04848" stroke-width="0.8"/>
<circle cx="279.1" cy="182.8" r="2.6" fill="#fff" stroke="#e04848" stroke-width="0.8"/>
<circle cx="282.6" cy="182.8" r="2.6" fill="#fff" stroke="#e04848" stroke-width="0.8"/>
<circle cx="286.1" cy="182.8" r="2.6" fill="#fff" stroke="#e04848" stroke-width="0.8"/>
<circle cx="289.6" cy="182.8" r="2.6" fill="#fff" stroke="#e04848" stroke-width="0.8"/>
<circle cx="293.1" cy="182.8" r="2.6" fill="#fff" stroke="#e04848" stroke-width="0.8"/>
<circle cx="296.6" cy="182.8" r="2.6" fill="#fff" stroke="#e04848" stroke-width="0.8"/>
<circle cx="300.1" cy="182.8" r="2.6" fill="#fff" stroke="#e04848" stroke-width="0.8"/>
<circle cx="303.6" cy="182.8" r="2.6" fill="#fff" stroke="#e04848" stroke-width="0.8"/>
<circle cx="307.1" cy="182.8" r="2.6" fill="#fff" stroke="#e04848" stroke-width="0.8"/>
<circle cx="310.6" cy="179.3" r="2.6" fill="#fff" stroke="#e04848" stroke-width="0.8"/>
<circle cx="314.1" cy="171.0" r="2.6" fill="#fff" stroke="#e04848" stroke-width="0.8"/>
<circle cx="317.6" cy="159.9" r="2.6" fill="#fff" stroke="#e04848" stroke-width="0.8"/>
<circle cx="321.1" cy="149.8" r="2.6" fill="#fff" stroke="#e04848" stroke-width="0.8"/>
<circle cx="324.6" cy="138.2" r="2.6" fill="#fff" stroke="#e04848" stroke-width="0.8"/>
<circle cx="328.1" cy="127.8" r="2.6" fill="#fff" stroke="#e04848" stroke-width="0.8"/>
<circle cx="331.6" cy="112.8" r="2.6" fill="#fff" stroke="#e04848" stroke-width="0.8"/>
<circle cx="335.1" cy="87.0" r="2.6" fill="#fff" stroke="#e04848" stroke-width="0.8"/>
<circle cx="338.6" cy="72.0" r="2.6" fill="#fff" stroke="#e04848" stroke-width="0.8"/>
<circle cx="342.1" cy="67.2" r="2.6" fill="#fff" stroke="#e04848" stroke-width="0.8"/>
<circle cx="345.6" cy="62.8" r="2.6" fill="#fff" stroke="#e04848" stroke-width="0.8"/>
<circle cx="349.1" cy="60.0" r="2.6" fill="#fff" stroke="#e04848" stroke-width="0.8"/>
<circle cx="352.6" cy="58.0" r="2.6" fill="#fff" stroke="#e04848" stroke-width="0.8"/>
<circle cx="356.1" cy="57.0" r="2.6" fill="#fff" stroke="#e04848" stroke-width="0.8"/>
<circle cx="359.6" cy="55.8" r="2.6" fill="#fff" stroke="#e04848" stroke-width="0.8"/>
<circle cx="363.1" cy="54.4" r="2.6" fill="#fff" stroke="#e04848" stroke-width="0.8"/>
<circle cx="366.6" cy="53.1" r="2.6" fill="#fff" stroke="#e04848" stroke-width="0.8"/>
<circle cx="370.1" cy="52.2" r="2.6" fill="#fff" stroke="#e04848" stroke-width="0.8"/>
<circle cx="373.6" cy="51.3" r="2.6" fill="#fff" stroke="#e04848" stroke-width="0.8"/>
<circle cx="377.1" cy="50.5" r="2.6" fill="#fff" stroke="#e04848" stroke-width="0.8"/>
<circle cx="380.6" cy="49.6" r="2.6" fill="#fff" stroke="#e04848" stroke-width="0.8"/>
<circle cx="384.1" cy="48.7" r="2.6" fill="#fff" stroke="#e04848" stroke-width="0.8"/>
<circle cx="387.6" cy="48.3" r="2.6" fill="#fff" stroke="#e04848" stroke-width="0.8"/>
<circle cx="391.1" cy="47.8" r="2.6" fill="#fff" stroke="#e04848" stroke-width="0.8"/>
<circle cx="394.6" cy="48.3" r="2.6" fill="#fff" stroke="#e04848" stroke-width="0.8"/>
<circle cx="398.1" cy="48.9" r="2.6" fill="#fff" stroke="#e04848" stroke-width="0.8"/>
<circle cx="401.6" cy="49.4" r="2.6" fill="#fff" stroke="#e04848" stroke-width="0.8"/>
<circle cx="405.1" cy="49.9" r="2.6" fill="#fff" stroke="#e04848" stroke-width="0.8"/>
<circle cx="408.6" cy="50.5" r="2.6" fill="#fff" stroke="#e04848" stroke-width="0.8"/>
<circle cx="412.1" cy="50.3" r="2.6" fill="#fff" stroke="#e04848" stroke-width="0.8"/>
<circle cx="415.6" cy="50.1" r="2.6" fill="#fff" stroke="#e04848" stroke-width="0.8"/>
<circle cx="419.1" cy="49.9" r="2.6" fill="#fff" stroke="#e04848" stroke-width="0.8"/>
<circle cx="422.6" cy="49.8" r="2.6" fill="#fff" stroke="#e04848" stroke-width="0.8"/>
<circle cx="426.1" cy="49.6" r="2.6" fill="#fff" stroke="#e04848" stroke-width="0.8"/>
<circle cx="429.6" cy="49.0" r="2.6" fill="#fff" stroke="#e04848" stroke-width="0.8"/>
<circle cx="433.1" cy="48.4" r="2.6" fill="#fff" stroke="#e04848" stroke-width="0.8"/>
<circle cx="436.6" cy="47.8" r="2.6" fill="#fff" stroke="#e04848" stroke-width="0.8"/>
<circle cx="440.1" cy="48.3" r="2.6" fill="#fff" stroke="#e04848" stroke-width="0.8"/>
<circle cx="443.6" cy="48.7" r="2.6" fill="#fff" stroke="#e04848" stroke-width="0.8"/>
<rect x="268.7" y="43.5" width="189.9" height="141.0" fill="none" stroke="#111" stroke-width="1.3"/>
<line x1="268.7" y1="184.6" x2="271.7" y2="184.6" stroke="#222" stroke-width="0.8"/>
<line x1="268.7" y1="166.9" x2="270.7" y2="166.9" stroke="#222" stroke-width="0.8"/>
<line x1="268.7" y1="149.3" x2="271.7" y2="149.3" stroke="#222" stroke-width="0.8"/>
<line x1="268.7" y1="131.7" x2="270.7" y2="131.7" stroke="#222" stroke-width="0.8"/>
<line x1="268.7" y1="114.0" x2="271.7" y2="114.0" stroke="#222" stroke-width="0.8"/>
<line x1="268.7" y1="96.3" x2="270.7" y2="96.3" stroke="#222" stroke-width="0.8"/>
<line x1="268.7" y1="78.7" x2="271.7" y2="78.7" stroke="#222" stroke-width="0.8"/>
<line x1="268.7" y1="61.1" x2="270.7" y2="61.1" stroke="#222" stroke-width="0.8"/>
<line x1="268.7" y1="43.4" x2="271.7" y2="43.4" stroke="#222" stroke-width="0.8"/>
<line x1="268.6" y1="184.5" x2="268.6" y2="181.5" stroke="#222" stroke-width="0.8"/>
<line x1="286.1" y1="184.5" x2="286.1" y2="182.5" stroke="#222" stroke-width="0.8"/>
<line x1="303.6" y1="184.5" x2="303.6" y2="181.5" stroke="#222" stroke-width="0.8"/>
<line x1="321.1" y1="184.5" x2="321.1" y2="182.5" stroke="#222" stroke-width="0.8"/>
<line x1="338.6" y1="184.5" x2="338.6" y2="181.5" stroke="#222" stroke-width="0.8"/>
<line x1="356.1" y1="184.5" x2="356.1" y2="182.5" stroke="#222" stroke-width="0.8"/>
<line x1="373.6" y1="184.5" x2="373.6" y2="181.5" stroke="#222" stroke-width="0.8"/>
<line x1="391.1" y1="184.5" x2="391.1" y2="182.5" stroke="#222" stroke-width="0.8"/>
<line x1="408.6" y1="184.5" x2="408.6" y2="181.5" stroke="#222" stroke-width="0.8"/>
<line x1="426.1" y1="184.5" x2="426.1" y2="182.5" stroke="#222" stroke-width="0.8"/>
<line x1="443.6" y1="184.5" x2="443.6" y2="181.5" stroke="#222" stroke-width="0.8"/>
<text x="265.7" y="187.6" font-size="7" fill="#333" stroke="#333" stroke-width="0.22" text-anchor="end" font-family="Liberation Sans, sans-serif" >0</text>
<text x="265.7" y="152.3" font-size="7" fill="#333" stroke="#333" stroke-width="0.22" text-anchor="end" font-family="Liberation Sans, sans-serif" >2</text>
<text x="265.7" y="117.0" font-size="7" fill="#333" stroke="#333" stroke-width="0.22" text-anchor="end" font-family="Liberation Sans, sans-serif" >4</text>
<text x="265.7" y="81.7" font-size="7" fill="#333" stroke="#333" stroke-width="0.22" text-anchor="end" font-family="Liberation Sans, sans-serif" >6</text>
<text x="265.7" y="46.400000000000006" font-size="7" fill="#333" stroke="#333" stroke-width="0.22" text-anchor="end" font-family="Liberation Sans, sans-serif" >8</text>
<text x="268.6" y="193.5" font-size="7" fill="#333" stroke="#333" stroke-width="0.22" text-anchor="middle" font-family="Liberation Sans, sans-serif" >0</text>
<text x="303.6" y="193.5" font-size="7" fill="#333" stroke="#333" stroke-width="0.22" text-anchor="middle" font-family="Liberation Sans, sans-serif" >100</text>
<text x="338.6" y="193.5" font-size="7" fill="#333" stroke="#333" stroke-width="0.22" text-anchor="middle" font-family="Liberation Sans, sans-serif" >200</text>
<text x="373.6" y="193.5" font-size="7" fill="#333" stroke="#333" stroke-width="0.22" text-anchor="middle" font-family="Liberation Sans, sans-serif" >300</text>
<text x="408.6" y="193.5" font-size="7" fill="#333" stroke="#333" stroke-width="0.22" text-anchor="middle" font-family="Liberation Sans, sans-serif" >400</text>
<text x="443.6" y="193.5" font-size="7" fill="#333" stroke="#333" stroke-width="0.22" text-anchor="middle" font-family="Liberation Sans, sans-serif" >500</text>
<text x="366.4" y="205.4" font-size="7.5" fill="#222" stroke="#222" stroke-width="0.22" text-anchor="middle" font-family="Liberation Sans, sans-serif" >Distance (&#956;m)</text>
<text x="0" y="0" font-size="7.67" fill="#222" stroke="#222" stroke-width="0.22" text-anchor="middle" font-family="Liberation Sans, sans-serif" transform="translate(253.2,109.5) rotate(-90)">DO concentration (mg/L)</text>
<line x1="409.8" y1="153.0" x2="427.5" y2="153.0" stroke="#222" stroke-width="0.8"/>
<rect x="416.7" y="150.8" width="4.4" height="4.4" fill="#fff" stroke="#222" stroke-width="0.7"/>
<text x="429.8" y="155.6" font-size="7.3" fill="#333" stroke="#333" stroke-width="0.22" text-anchor="start" font-family="Liberation Sans, sans-serif" >N20</text>
<line x1="409.8" y1="162.3" x2="427.5" y2="162.3" stroke="#e04848" stroke-width="0.8"/>
<circle cx="418.9" cy="162.3" r="2.4" fill="#fff" stroke="#e04848" stroke-width="0.7"/>
<text x="429.8" y="164.9" font-size="7.3" fill="#333" stroke="#333" stroke-width="0.22" text-anchor="start" font-family="Liberation Sans, sans-serif" >N80</text>
<text x="250.5" y="52.8" font-size="17" fill="#111" text-anchor="middle" font-family="Liberation Sans, sans-serif">b</text>
<line x1="524.5" y1="64.5" x2="651.5" y2="184" stroke="#d85050" stroke-width="1.05" stroke-dasharray="1.2,1.3"/>
<rect x="518.6" y="55.0" width="4.3" height="4.3" fill="#111" stroke="none" stroke-width="0"/>
<rect x="523.5" y="59.8" width="4.3" height="4.3" fill="#111" stroke="none" stroke-width="0"/>
<rect x="558.5" y="95.5" width="4.3" height="4.3" fill="#111" stroke="none" stroke-width="0"/>
<rect x="603.1" y="157.1" width="4.3" height="4.3" fill="#111" stroke="none" stroke-width="0"/>
<rect x="649.0" y="182.6" width="4.3" height="4.3" fill="#111" stroke="none" stroke-width="0"/>
<rect x="655.6" y="167.2" width="4.3" height="4.3" fill="#111" stroke="none" stroke-width="0"/>
<rect x="500.8" y="43.4" width="176.2" height="142.1" fill="none" stroke="#111" stroke-width="1.3"/>
<line x1="500.8" y1="185.5" x2="503.8" y2="185.5" stroke="#222" stroke-width="0.8"/>
<line x1="500.8" y1="171.3" x2="502.8" y2="171.3" stroke="#222" stroke-width="0.8"/>
<line x1="500.8" y1="157.1" x2="503.8" y2="157.1" stroke="#222" stroke-width="0.8"/>
<line x1="500.8" y1="142.9" x2="502.8" y2="142.9" stroke="#222" stroke-width="0.8"/>
<line x1="500.8" y1="128.7" x2="503.8" y2="128.7" stroke="#222" stroke-width="0.8"/>
<line x1="500.8" y1="114.5" x2="502.8" y2="114.5" stroke="#222" stroke-width="0.8"/>
<line x1="500.8" y1="100.3" x2="503.8" y2="100.3" stroke="#222" stroke-width="0.8"/>
<line x1="500.8" y1="86.1" x2="502.8" y2="86.1" stroke="#222" stroke-width="0.8"/>
<line x1="500.8" y1="71.9" x2="503.8" y2="71.9" stroke="#222" stroke-width="0.8"/>
<line x1="500.8" y1="57.7" x2="502.8" y2="57.7" stroke="#222" stroke-width="0.8"/>
<line x1="500.8" y1="43.5" x2="503.8" y2="43.5" stroke="#222" stroke-width="0.8"/>
<line x1="513.3" y1="185.5" x2="513.3" y2="182.5" stroke="#222" stroke-width="0.8"/>
<line x1="525.8" y1="185.5" x2="525.8" y2="183.5" stroke="#222" stroke-width="0.8"/>
<line x1="538.3" y1="185.5" x2="538.3" y2="182.5" stroke="#222" stroke-width="0.8"/>
<line x1="550.8" y1="185.5" x2="550.8" y2="183.5" stroke="#222" stroke-width="0.8"/>
<line x1="563.3" y1="185.5" x2="563.3" y2="182.5" stroke="#222" stroke-width="0.8"/>
<line x1="575.8" y1="185.5" x2="575.8" y2="183.5" stroke="#222" stroke-width="0.8"/>
<line x1="588.3" y1="185.5" x2="588.3" y2="182.5" stroke="#222" stroke-width="0.8"/>
<line x1="600.8" y1="185.5" x2="600.8" y2="183.5" stroke="#222" stroke-width="0.8"/>
<line x1="613.3" y1="185.5" x2="613.3" y2="182.5" stroke="#222" stroke-width="0.8"/>
<line x1="625.8" y1="185.5" x2="625.8" y2="183.5" stroke="#222" stroke-width="0.8"/>
<line x1="638.3" y1="185.5" x2="638.3" y2="182.5" stroke="#222" stroke-width="0.8"/>
<line x1="650.8" y1="185.5" x2="650.8" y2="183.5" stroke="#222" stroke-width="0.8"/>
<line x1="663.3" y1="185.5" x2="663.3" y2="182.5" stroke="#222" stroke-width="0.8"/>
<line x1="675.8" y1="185.5" x2="675.8" y2="183.5" stroke="#222" stroke-width="0.8"/>
<text x="497.5" y="187.8" font-size="7" fill="#333" stroke="#333" stroke-width="0.22" text-anchor="end" font-family="Liberation Sans, sans-serif" >0</text>
<text x="497.5" y="159.4" font-size="7" fill="#333" stroke="#333" stroke-width="0.22" text-anchor="end" font-family="Liberation Sans, sans-serif" >20</text>
<text x="497.5" y="131.0" font-size="7" fill="#333" stroke="#333" stroke-width="0.22" text-anchor="end" font-family="Liberation Sans, sans-serif" >40</text>
<text x="497.5" y="102.60000000000001" font-size="7" fill="#333" stroke="#333" stroke-width="0.22" text-anchor="end" font-family="Liberation Sans, sans-serif" >60</text>
<text x="497.5" y="74.2" font-size="7" fill="#333" stroke="#333" stroke-width="0.22" text-anchor="end" font-family="Liberation Sans, sans-serif" >80</text>
<text x="497.5" y="45.8" font-size="7" fill="#333" stroke="#333" stroke-width="0.22" text-anchor="end" font-family="Liberation Sans, sans-serif" >100</text>
<text x="513.3" y="194" font-size="7" fill="#333" stroke="#333" stroke-width="0.22" text-anchor="middle" font-family="Liberation Sans, sans-serif" >50</text>
<text x="538.3" y="194" font-size="7" fill="#333" stroke="#333" stroke-width="0.22" text-anchor="middle" font-family="Liberation Sans, sans-serif" >100</text>
<text x="563.3" y="194" font-size="7" fill="#333" stroke="#333" stroke-width="0.22" text-anchor="middle" font-family="Liberation Sans, sans-serif" >150</text>
<text x="588.3" y="194" font-size="7" fill="#333" stroke="#333" stroke-width="0.22" text-anchor="middle" font-family="Liberation Sans, sans-serif" >200</text>
<text x="613.3" y="194" font-size="7" fill="#333" stroke="#333" stroke-width="0.22" text-anchor="middle" font-family="Liberation Sans, sans-serif" >250</text>
<text x="638.3" y="194" font-size="7" fill="#333" stroke="#333" stroke-width="0.22" text-anchor="middle" font-family="Liberation Sans, sans-serif" >300</text>
<text x="663.3" y="194" font-size="7" fill="#333" stroke="#333" stroke-width="0.22" text-anchor="middle" font-family="Liberation Sans, sans-serif" >350</text>
<text x="588.8" y="205.4" font-size="7.42" fill="#222" stroke="#222" stroke-width="0.22" text-anchor="middle" font-family="Liberation Sans, sans-serif" >Laminar boundary layer thickness (&#956;m)</text>
<text x="0" y="0" font-size="7.39" fill="#222" stroke="#222" stroke-width="0.22" text-anchor="middle" font-family="Liberation Sans, sans-serif" transform="translate(481.8,109.5) rotate(-90)">Current loss during aeration (%)</text>
<text x="628" y="153" font-size="7.5" fill="#222" font-family="Liberation Sans, sans-serif">R<tspan font-size="5" dy="-3">2</tspan><tspan dy="3">=0.9521</tspan></text>
<text x="477.8" y="53" font-size="17.5" fill="#111" text-anchor="middle" font-family="Liberation Sans, sans-serif">c</text>
<rect x="15.8" y="208.6" width="222.1" height="157.8" fill="#000"/>
<clipPath id="cld"><polygon points="125,243 205,287 204,291 128,329 49,290.5 48.5,281"/></clipPath>
<g clip-path="url(#cld)">
<rect x="15.8" y="208.6" width="222.1" height="157.8" filter="url(#nG)"/>
<rect x="15.8" y="208.6" width="222.1" height="157.8" filter="url(#nY)" opacity="0.8"/>
</g>
<g filter="url(#bl1)">
</g>
<polyline points="47.5,291.7 48.5,279 125,238.5 205,283.9 205,295.7" fill="none" stroke="#cfb4b4" stroke-width="0.55" opacity="0.7"/>
<polyline points="47.5,291.7 127.2,336.4 205,295.7" fill="none" stroke="#cfb4b4" stroke-width="0.55" opacity="0.7"/>
<line x1="47.5" y1="291.7" x2="46.3" y2="293.9" stroke="#bbb" stroke-width="0.5" opacity="0.7"/>
<line x1="127.2" y1="336.4" x2="128.4" y2="338.6" stroke="#bbb" stroke-width="0.5" opacity="0.7"/>
<line x1="55.5" y1="296.2" x2="54.3" y2="298.4" stroke="#bbb" stroke-width="0.5" opacity="0.7"/>
<rect x="50.5" y="300.2" width="3" height="1.6" fill="#ccc" opacity="0.75"/>
<line x1="135.0" y1="332.3" x2="136.2" y2="334.5" stroke="#bbb" stroke-width="0.5" opacity="0.7"/>
<rect x="137.0" y="336.3" width="3" height="1.6" fill="#ccc" opacity="0.75"/>
<line x1="63.4" y1="300.6" x2="62.2" y2="302.8" stroke="#bbb" stroke-width="0.5" opacity="0.7"/>
<line x1="142.8" y1="328.3" x2="144.0" y2="330.5" stroke="#bbb" stroke-width="0.5" opacity="0.7"/>
<line x1="71.4" y1="305.1" x2="70.2" y2="307.3" stroke="#bbb" stroke-width="0.5" opacity="0.7"/>
<rect x="66.4" y="309.1" width="3" height="1.6" fill="#ccc" opacity="0.75"/>
<line x1="150.5" y1="324.2" x2="151.7" y2="326.4" stroke="#bbb" stroke-width="0.5" opacity="0.7"/>
<rect x="152.5" y="328.2" width="3" height="1.6" fill="#ccc" opacity="0.75"/>
<line x1="79.4" y1="309.6" x2="78.2" y2="311.8" stroke="#bbb" stroke-width="0.5" opacity="0.7"/>
<line x1="158.3" y1="320.1" x2="159.5" y2="322.3" stroke="#bbb" stroke-width="0.5" opacity="0.7"/>
<line x1="87.3" y1="314.0" x2="86.1" y2="316.2" stroke="#bbb" stroke-width="0.5" opacity="0.7"/>
<rect x="82.3" y="318.0" width="3" height="1.6" fill="#ccc" opacity="0.75"/>
<line x1="166.1" y1="316.0" x2="167.3" y2="318.2" stroke="#bbb" stroke-width="0.5" opacity="0.7"/>
<rect x="168.1" y="320.0" width="3" height="1.6" fill="#ccc" opacity="0.75"/>
<line x1="95.3" y1="318.5" x2="94.1" y2="320.7" stroke="#bbb" stroke-width="0.5" opacity="0.7"/>
<line x1="173.9" y1="312.0" x2="175.1" y2="314.2" stroke="#bbb" stroke-width="0.5" opacity="0.7"/>
<line x1="103.3" y1="323.0" x2="102.1" y2="325.2" stroke="#bbb" stroke-width="0.5" opacity="0.7"/>
<rect x="98.3" y="327.0" width="3" height="1.6" fill="#ccc" opacity="0.75"/>
<line x1="181.7" y1="307.9" x2="182.9" y2="310.1" stroke="#bbb" stroke-width="0.5" opacity="0.7"/>
<rect x="183.7" y="311.9" width="3" height="1.6" fill="#ccc" opacity="0.75"/>
<line x1="111.3" y1="327.5" x2="110.1" y2="329.7" stroke="#bbb" stroke-width="0.5" opacity="0.7"/>
<line x1="189.4" y1="303.8" x2="190.6" y2="306.0" stroke="#bbb" stroke-width="0.5" opacity="0.7"/>
<line x1="119.2" y1="331.9" x2="118.0" y2="334.1" stroke="#bbb" stroke-width="0.5" opacity="0.7"/>
<rect x="114.2" y="335.9" width="3" height="1.6" fill="#ccc" opacity="0.75"/>
<line x1="197.2" y1="299.8" x2="198.4" y2="302.0" stroke="#bbb" stroke-width="0.5" opacity="0.7"/>
<rect x="199.2" y="303.8" width="3" height="1.6" fill="#ccc" opacity="0.75"/>
<line x1="127.2" y1="336.4" x2="126.0" y2="338.6" stroke="#bbb" stroke-width="0.5" opacity="0.7"/>
<line x1="205.0" y1="295.7" x2="206.2" y2="297.9" stroke="#bbb" stroke-width="0.5" opacity="0.7"/>
<rect x="206.0" y="283.9" width="4.5" height="1.3" fill="#ddd" opacity="0.75"/>
<rect x="206.0" y="287.1" width="4.5" height="1.3" fill="#ddd" opacity="0.75"/>
<rect x="206.0" y="290.3" width="4.5" height="1.3" fill="#ddd" opacity="0.75"/>
<rect x="215.0" y="289.9" width="4" height="1.6" fill="#ccc" opacity="0.7"/>
<rect x="84.3" y="323.0" width="5" height="1.6" fill="#ccc" opacity="0.7"/>
<rect x="170.1" y="324.0" width="5" height="1.6" fill="#ccc" opacity="0.7"/>
<text x="18.0" y="226.2" font-size="17.5" fill="#fff" font-family="Liberation Sans, sans-serif">d</text>
<text x="199.4" y="354.6" font-size="11" fill="#f0f0f0" font-family="Liberation Sans, sans-serif">R500</text>
<rect x="243.9" y="208.6" width="221.9" height="157.8" fill="#000"/>
<clipPath id="cle"><polygon points="353,245 430,287.4 428,292 355,330 277,291 276.7,287.4"/></clipPath>
<g clip-path="url(#cle)">
<rect x="243.9" y="208.6" width="221.9" height="157.8" filter="url(#nE)"/>
<rect x="243.9" y="208.6" width="221.9" height="157.8" filter="url(#nO)" opacity="0.8"/>
</g>
<g filter="url(#bl1)">
<ellipse cx="296.9" cy="282.1" rx="6.0" ry="4.8" fill="url(#gO)"/>
<ellipse cx="306.5" cy="277.9" rx="4.5" ry="3.6" fill="url(#gO)"/>
<ellipse cx="316" cy="279" rx="4.5" ry="3.6" fill="url(#gO)"/>
<ellipse cx="316" cy="266.2" rx="5.2" ry="4.2" fill="url(#gO)"/>
<ellipse cx="327.8" cy="261.9" rx="5.2" ry="4.2" fill="url(#gO)"/>
<ellipse cx="328.8" cy="267.2" rx="4.5" ry="3.6" fill="url(#gO)"/>
<ellipse cx="299" cy="275.7" rx="4.5" ry="3.6" fill="url(#gO)"/>
<ellipse cx="335.2" cy="286.4" rx="4.5" ry="3.6" fill="url(#gO)"/>
<ellipse cx="344.8" cy="276.8" rx="5.2" ry="4.2" fill="url(#gO)"/>
<ellipse cx="345.9" cy="294.9" rx="4.5" ry="3.6" fill="url(#gO)"/>
<ellipse cx="333" cy="299.1" rx="4.5" ry="3.6" fill="url(#gO)"/>
<ellipse cx="316" cy="302.3" rx="5.2" ry="4.2" fill="url(#gO)"/>
<ellipse cx="326.7" cy="311.9" rx="6.8" ry="5.4" fill="url(#gO)"/>
<ellipse cx="302.2" cy="298" rx="4.5" ry="3.6" fill="url(#gO)"/>
<ellipse cx="289.5" cy="293.8" rx="3.8" ry="3.0" fill="url(#gO)"/>
<ellipse cx="357.6" cy="267.2" rx="4.5" ry="3.6" fill="url(#gO)"/>
<ellipse cx="358.6" cy="274.7" rx="4.5" ry="3.6" fill="url(#gO)"/>
<ellipse cx="361.8" cy="261.9" rx="4.5" ry="3.6" fill="url(#gO)"/>
<ellipse cx="358.6" cy="293.8" rx="4.5" ry="3.6" fill="url(#gO)"/>
<ellipse cx="361.8" cy="315.1" rx="4.5" ry="3.6" fill="url(#gO)"/>
<ellipse cx="372.7" cy="257.7" rx="5.2" ry="4.2" fill="url(#gO)"/>
<ellipse cx="378" cy="259.8" rx="4.5" ry="3.6" fill="url(#gO)"/>
<ellipse cx="365.2" cy="267.2" rx="5.2" ry="4.2" fill="url(#gO)"/>
<ellipse cx="368.4" cy="270.4" rx="4.5" ry="3.6" fill="url(#gO)"/>
<ellipse cx="359.9" cy="274.7" rx="4.5" ry="3.6" fill="url(#gO)"/>
<ellipse cx="370.5" cy="282.1" rx="4.5" ry="3.6" fill="url(#gO)"/>
<ellipse cx="383.3" cy="270.4" rx="4.5" ry="3.6" fill="url(#gO)"/>
<ellipse cx="392.9" cy="267.2" rx="4.5" ry="3.6" fill="url(#gO)"/>
<ellipse cx="392.9" cy="275.7" rx="4.5" ry="3.6" fill="url(#gO)"/>
<ellipse cx="402.4" cy="276.8" rx="5.2" ry="4.2" fill="url(#gO)"/>
<ellipse cx="413.1" cy="282.1" rx="4.5" ry="3.6" fill="url(#gO)"/>
<ellipse cx="390.7" cy="283.2" rx="4.5" ry="3.6" fill="url(#gO)"/>
<ellipse cx="366.3" cy="287.4" rx="4.5" ry="3.6" fill="url(#gO)"/>
<ellipse cx="347.1" cy="293.8" rx="4.5" ry="3.6" fill="url(#gO)"/>
<ellipse cx="361" cy="293.8" rx="4.5" ry="3.6" fill="url(#gO)"/>
<ellipse cx="367.3" cy="294.9" rx="4.5" ry="3.6" fill="url(#gO)"/>
<ellipse cx="395" cy="293.8" rx="4.5" ry="3.6" fill="url(#gO)"/>
<ellipse cx="398.2" cy="303.4" rx="4.5" ry="3.6" fill="url(#gO)"/>
<ellipse cx="376.9" cy="309.8" rx="4.5" ry="3.6" fill="url(#gO)"/>
<ellipse cx="363.1" cy="315.1" rx="4.5" ry="3.6" fill="url(#gO)"/>
<ellipse cx="357.8" cy="325.7" rx="3.8" ry="3.0" fill="url(#gO)"/>
</g>
<polyline points="274.6,291.7 275.6,282.1 353.3,239.6 433.3,283.2 433,291.7" fill="none" stroke="#cfb4b4" stroke-width="0.55" opacity="0.7"/>
<polyline points="274.6,291.7 355.4,336.4 433,291.7" fill="none" stroke="#cfb4b4" stroke-width="0.55" opacity="0.7"/>
<line x1="274.6" y1="291.7" x2="273.4" y2="293.9" stroke="#bbb" stroke-width="0.5" opacity="0.7"/>
<line x1="355.4" y1="336.4" x2="356.6" y2="338.6" stroke="#bbb" stroke-width="0.5" opacity="0.7"/>
<line x1="282.7" y1="296.2" x2="281.5" y2="298.4" stroke="#bbb" stroke-width="0.5" opacity="0.7"/>
<rect x="277.7" y="300.2" width="3" height="1.6" fill="#ccc" opacity="0.75"/>
<line x1="363.2" y1="331.9" x2="364.4" y2="334.1" stroke="#bbb" stroke-width="0.5" opacity="0.7"/>
<rect x="365.2" y="335.9" width="3" height="1.6" fill="#ccc" opacity="0.75"/>
<line x1="290.8" y1="300.6" x2="289.6" y2="302.8" stroke="#bbb" stroke-width="0.5" opacity="0.7"/>
<line x1="370.9" y1="327.5" x2="372.1" y2="329.7" stroke="#bbb" stroke-width="0.5" opacity="0.7"/>
<line x1="298.8" y1="305.1" x2="297.6" y2="307.3" stroke="#bbb" stroke-width="0.5" opacity="0.7"/>
<rect x="293.8" y="309.1" width="3" height="1.6" fill="#ccc" opacity="0.75"/>
<line x1="378.7" y1="323.0" x2="379.9" y2="325.2" stroke="#bbb" stroke-width="0.5" opacity="0.7"/>
<rect x="380.7" y="327.0" width="3" height="1.6" fill="#ccc" opacity="0.75"/>
<line x1="306.9" y1="309.6" x2="305.7" y2="311.8" stroke="#bbb" stroke-width="0.5" opacity="0.7"/>
<line x1="386.4" y1="318.5" x2="387.6" y2="320.7" stroke="#bbb" stroke-width="0.5" opacity="0.7"/>
<line x1="315.0" y1="314.0" x2="313.8" y2="316.2" stroke="#bbb" stroke-width="0.5" opacity="0.7"/>
<rect x="310.0" y="318.0" width="3" height="1.6" fill="#ccc" opacity="0.75"/>
<line x1="394.2" y1="314.0" x2="395.4" y2="316.2" stroke="#bbb" stroke-width="0.5" opacity="0.7"/>
<rect x="396.2" y="318.0" width="3" height="1.6" fill="#ccc" opacity="0.75"/>
<line x1="323.1" y1="318.5" x2="321.9" y2="320.7" stroke="#bbb" stroke-width="0.5" opacity="0.7"/>
<line x1="402.0" y1="309.6" x2="403.2" y2="311.8" stroke="#bbb" stroke-width="0.5" opacity="0.7"/>
<line x1="331.2" y1="323.0" x2="330.0" y2="325.2" stroke="#bbb" stroke-width="0.5" opacity="0.7"/>
<rect x="326.2" y="327.0" width="3" height="1.6" fill="#ccc" opacity="0.75"/>
<line x1="409.7" y1="305.1" x2="410.9" y2="307.3" stroke="#bbb" stroke-width="0.5" opacity="0.7"/>
<rect x="411.7" y="309.1" width="3" height="1.6" fill="#ccc" opacity="0.75"/>
<line x1="339.2" y1="327.5" x2="338.0" y2="329.7" stroke="#bbb" stroke-width="0.5" opacity="0.7"/>
<line x1="417.5" y1="300.6" x2="418.7" y2="302.8" stroke="#bbb" stroke-width="0.5" opacity="0.7"/>
<line x1="347.3" y1="331.9" x2="346.1" y2="334.1" stroke="#bbb" stroke-width="0.5" opacity="0.7"/>
<rect x="342.3" y="335.9" width="3" height="1.6" fill="#ccc" opacity="0.75"/>
<line x1="425.2" y1="296.2" x2="426.4" y2="298.4" stroke="#bbb" stroke-width="0.5" opacity="0.7"/>
<rect x="427.2" y="300.2" width="3" height="1.6" fill="#ccc" opacity="0.75"/>
<line x1="355.4" y1="336.4" x2="354.2" y2="338.6" stroke="#bbb" stroke-width="0.5" opacity="0.7"/>
<line x1="433.0" y1="291.7" x2="434.2" y2="293.9" stroke="#bbb" stroke-width="0.5" opacity="0.7"/>
<rect x="434.3" y="283.2" width="4.5" height="1.3" fill="#ddd" opacity="0.75"/>
<rect x="434.3" y="286.4" width="4.5" height="1.3" fill="#ddd" opacity="0.75"/>
<rect x="434.3" y="289.6" width="4.5" height="1.3" fill="#ddd" opacity="0.75"/>
<rect x="443.3" y="289.2" width="4" height="1.6" fill="#ccc" opacity="0.7"/>
<rect x="312.0" y="323.0" width="5" height="1.6" fill="#ccc" opacity="0.7"/>
<rect x="398.2" y="322.0" width="5" height="1.6" fill="#ccc" opacity="0.7"/>
<text x="246.1" y="226.2" font-size="17.5" fill="#fff" font-family="Liberation Sans, sans-serif">e</text>
<text x="427.5" y="354.6" font-size="11" fill="#f0f0f0" font-family="Liberation Sans, sans-serif">R1000</text>
<rect x="471.9" y="208.6" width="219" height="157.8" fill="#000"/>
<clipPath id="clf"><polygon points="580.4,233.5 660.4,289.3 660.4,292 583.7,340.3 503.9,290.4 503.9,284.9"/></clipPath>
<g clip-path="url(#clf)">
<rect x="471.9" y="208.6" width="219" height="157.8" filter="url(#nF)"/>
</g>
<g filter="url(#bl1)">
<ellipse cx="544.5" cy="273.5" rx="3.0" ry="2.4" fill="url(#gY)"/>
<ellipse cx="522" cy="291.8" rx="2.2" ry="1.7" fill="url(#gY)"/>
</g>
<polyline points="503.5,292 503.5,279.3 580.4,232.8 662.6,283.8 662.6,296" fill="none" stroke="#cfb4b4" stroke-width="0.55" opacity="0.7"/>
<polyline points="503.5,292 584.5,343 662.6,296" fill="none" stroke="#cfb4b4" stroke-width="0.55" opacity="0.7"/>
<line x1="503.5" y1="292.0" x2="502.3" y2="294.2" stroke="#bbb" stroke-width="0.5" opacity="0.7"/>
<line x1="584.5" y1="343.0" x2="585.7" y2="345.2" stroke="#bbb" stroke-width="0.5" opacity="0.7"/>
<line x1="511.6" y1="297.1" x2="510.4" y2="299.3" stroke="#bbb" stroke-width="0.5" opacity="0.7"/>
<rect x="506.6" y="301.1" width="3" height="1.6" fill="#ccc" opacity="0.75"/>
<line x1="592.3" y1="338.3" x2="593.5" y2="340.5" stroke="#bbb" stroke-width="0.5" opacity="0.7"/>
<rect x="594.3" y="342.3" width="3" height="1.6" fill="#ccc" opacity="0.75"/>
<line x1="519.7" y1="302.2" x2="518.5" y2="304.4" stroke="#bbb" stroke-width="0.5" opacity="0.7"/>
<line x1="600.1" y1="333.6" x2="601.3" y2="335.8" stroke="#bbb" stroke-width="0.5" opacity="0.7"/>
<line x1="527.8" y1="307.3" x2="526.6" y2="309.5" stroke="#bbb" stroke-width="0.5" opacity="0.7"/>
<rect x="522.8" y="311.3" width="3" height="1.6" fill="#ccc" opacity="0.75"/>
<line x1="607.9" y1="328.9" x2="609.1" y2="331.1" stroke="#bbb" stroke-width="0.5" opacity="0.7"/>
<rect x="609.9" y="332.9" width="3" height="1.6" fill="#ccc" opacity="0.75"/>
<line x1="535.9" y1="312.4" x2="534.7" y2="314.6" stroke="#bbb" stroke-width="0.5" opacity="0.7"/>
<line x1="615.7" y1="324.2" x2="616.9" y2="326.4" stroke="#bbb" stroke-width="0.5" opacity="0.7"/>
<line x1="544.0" y1="317.5" x2="542.8" y2="319.7" stroke="#bbb" stroke-width="0.5" opacity="0.7"/>
<rect x="539.0" y="321.5" width="3" height="1.6" fill="#ccc" opacity="0.75"/>
<line x1="623.5" y1="319.5" x2="624.8" y2="321.7" stroke="#bbb" stroke-width="0.5" opacity="0.7"/>
<rect x="625.5" y="323.5" width="3" height="1.6" fill="#ccc" opacity="0.75"/>
<line x1="552.1" y1="322.6" x2="550.9" y2="324.8" stroke="#bbb" stroke-width="0.5" opacity="0.7"/>
<line x1="631.4" y1="314.8" x2="632.6" y2="317.0" stroke="#bbb" stroke-width="0.5" opacity="0.7"/>
<line x1="560.2" y1="327.7" x2="559.0" y2="329.9" stroke="#bbb" stroke-width="0.5" opacity="0.7"/>
<rect x="555.2" y="331.7" width="3" height="1.6" fill="#ccc" opacity="0.75"/>
<line x1="639.2" y1="310.1" x2="640.4" y2="312.3" stroke="#bbb" stroke-width="0.5" opacity="0.7"/>
<rect x="641.2" y="314.1" width="3" height="1.6" fill="#ccc" opacity="0.75"/>
<line x1="568.3" y1="332.8" x2="567.1" y2="335.0" stroke="#bbb" stroke-width="0.5" opacity="0.7"/>
<line x1="647.0" y1="305.4" x2="648.2" y2="307.6" stroke="#bbb" stroke-width="0.5" opacity="0.7"/>
<line x1="576.4" y1="337.9" x2="575.2" y2="340.1" stroke="#bbb" stroke-width="0.5" opacity="0.7"/>
<rect x="571.4" y="341.9" width="3" height="1.6" fill="#ccc" opacity="0.75"/>
<line x1="654.8" y1="300.7" x2="656.0" y2="302.9" stroke="#bbb" stroke-width="0.5" opacity="0.7"/>
<rect x="656.8" y="304.7" width="3" height="1.6" fill="#ccc" opacity="0.75"/>
<line x1="584.5" y1="343.0" x2="583.3" y2="345.2" stroke="#bbb" stroke-width="0.5" opacity="0.7"/>
<line x1="662.6" y1="296.0" x2="663.8" y2="298.2" stroke="#bbb" stroke-width="0.5" opacity="0.7"/>
<rect x="663.6" y="283.8" width="4.5" height="1.3" fill="#ddd" opacity="0.75"/>
<rect x="663.6" y="287.0" width="4.5" height="1.3" fill="#ddd" opacity="0.75"/>
<rect x="663.6" y="290.2" width="4.5" height="1.3" fill="#ddd" opacity="0.75"/>
<rect x="672.6" y="289.8" width="4" height="1.6" fill="#ccc" opacity="0.7"/>
<rect x="541.0" y="326.5" width="5" height="1.6" fill="#ccc" opacity="0.7"/>
<rect x="627.5" y="327.5" width="5" height="1.6" fill="#ccc" opacity="0.7"/>
<text x="474.09999999999997" y="226.2" font-size="17.5" fill="#fff" font-family="Liberation Sans, sans-serif">f</text>
<text x="660" y="354.6" font-size="11" fill="#f0f0f0" font-family="Liberation Sans, sans-serif">N80</text>
<rect x="15.8" y="372.2" width="222.1" height="157.5" fill="#000"/>
<clipPath id="clg"><polygon points="126,408.8 201.9,449.3 201.9,452 126,494 49.6,452 49.6,448.2"/></clipPath>
<g clip-path="url(#clg)">
<rect x="15.8" y="372.2" width="222.1" height="157.5" filter="url(#nGg)"/>
</g>
<g filter="url(#bl1)">
<ellipse cx="61.3" cy="445" rx="6.8" ry="5.4" fill="url(#gY)"/>
<ellipse cx="74" cy="455.6" rx="3.8" ry="3.0" fill="url(#gO)"/>
<ellipse cx="84.7" cy="457.8" rx="6.0" ry="4.8" fill="url(#gY)"/>
<ellipse cx="97.4" cy="463" rx="5.2" ry="4.2" fill="url(#gY)"/>
<ellipse cx="108" cy="464.1" rx="6.8" ry="5.4" fill="url(#gY)"/>
<ellipse cx="91" cy="434.4" rx="3.8" ry="3.0" fill="url(#gO)"/>
<ellipse cx="101.7" cy="440.7" rx="4.5" ry="3.6" fill="url(#gO)"/>
<ellipse cx="114.5" cy="438.6" rx="4.5" ry="3.6" fill="url(#gO)"/>
<ellipse cx="113.4" cy="445" rx="3.8" ry="3.0" fill="url(#gO)"/>
<ellipse cx="110.2" cy="431.2" rx="6.0" ry="4.8" fill="url(#gY)"/>
<ellipse cx="118.7" cy="428" rx="6.8" ry="5.4" fill="url(#gO)"/>
<ellipse cx="120.9" cy="416.3" rx="5.2" ry="4.2" fill="url(#gO)"/>
<ellipse cx="131.5" cy="421.6" rx="5.2" ry="4.2" fill="url(#gY)"/>
<ellipse cx="124" cy="450.3" rx="5.2" ry="4.2" fill="url(#gY)"/>
<ellipse cx="125.1" cy="456.7" rx="4.5" ry="3.6" fill="url(#gO)"/>
<ellipse cx="137.9" cy="446" rx="3.8" ry="3.0" fill="url(#gO)"/>
<ellipse cx="136.8" cy="458.8" rx="4.5" ry="3.6" fill="url(#gO)"/>
<ellipse cx="137.9" cy="470.5" rx="6.0" ry="4.8" fill="url(#gY)"/>
<ellipse cx="95.3" cy="475.9" rx="3.8" ry="3.0" fill="url(#gO)"/>
<ellipse cx="104.9" cy="482.2" rx="4.5" ry="3.6" fill="url(#gO)"/>
<ellipse cx="120.9" cy="489.7" rx="4.5" ry="3.6" fill="url(#gO)"/>
<ellipse cx="139.1" cy="419.5" rx="6.0" ry="4.8" fill="url(#gY)"/>
<ellipse cx="146.6" cy="424.8" rx="4.5" ry="3.6" fill="url(#gO)"/>
<ellipse cx="157.2" cy="431.2" rx="6.0" ry="4.8" fill="url(#gY)"/>
<ellipse cx="143.4" cy="436.5" rx="6.0" ry="4.8" fill="url(#gY)"/>
<ellipse cx="145.5" cy="442.9" rx="6.0" ry="4.8" fill="url(#gO)"/>
<ellipse cx="155.1" cy="440.7" rx="6.8" ry="5.4" fill="url(#gY)"/>
<ellipse cx="165.7" cy="440.7" rx="3.8" ry="3.0" fill="url(#gO)"/>
<ellipse cx="140.2" cy="451.4" rx="3.8" ry="3.0" fill="url(#gO)"/>
<ellipse cx="138.1" cy="459.9" rx="4.5" ry="3.6" fill="url(#gO)"/>
<ellipse cx="151.9" cy="457.8" rx="4.5" ry="3.6" fill="url(#gO)"/>
<ellipse cx="168.9" cy="458.8" rx="3.8" ry="3.0" fill="url(#gO)"/>
<ellipse cx="182.8" cy="447.1" rx="3.8" ry="3.0" fill="url(#gO)"/>
<ellipse cx="189.1" cy="456.7" rx="3.8" ry="3.0" fill="url(#gO)"/>
<ellipse cx="189.1" cy="462" rx="3.8" ry="3.0" fill="url(#gO)"/>
<ellipse cx="139.1" cy="470.5" rx="6.8" ry="5.4" fill="url(#gY)"/>
<ellipse cx="148.7" cy="472.7" rx="4.5" ry="3.6" fill="url(#gO)"/>
<ellipse cx="122.1" cy="489.7" rx="5.2" ry="4.2" fill="url(#gY)"/>
</g>
<polyline points="48,457.8 48.5,443.9 126.2,402.4 204,447.1 205,461" fill="none" stroke="#cfb4b4" stroke-width="0.55" opacity="0.7"/>
<polyline points="48,457.8 127.2,501.4 205,461" fill="none" stroke="#cfb4b4" stroke-width="0.55" opacity="0.7"/>
<line x1="48.0" y1="457.8" x2="46.8" y2="460.0" stroke="#bbb" stroke-width="0.5" opacity="0.7"/>
<line x1="127.2" y1="501.4" x2="128.4" y2="503.6" stroke="#bbb" stroke-width="0.5" opacity="0.7"/>
<line x1="55.9" y1="462.2" x2="54.7" y2="464.4" stroke="#bbb" stroke-width="0.5" opacity="0.7"/>
<rect x="50.9" y="466.2" width="3" height="1.6" fill="#ccc" opacity="0.75"/>
<line x1="135.0" y1="497.4" x2="136.2" y2="499.6" stroke="#bbb" stroke-width="0.5" opacity="0.7"/>
<rect x="137.0" y="501.4" width="3" height="1.6" fill="#ccc" opacity="0.75"/>
<line x1="63.8" y1="466.5" x2="62.6" y2="468.7" stroke="#bbb" stroke-width="0.5" opacity="0.7"/>
<line x1="142.8" y1="493.3" x2="144.0" y2="495.5" stroke="#bbb" stroke-width="0.5" opacity="0.7"/>
<line x1="71.8" y1="470.9" x2="70.6" y2="473.1" stroke="#bbb" stroke-width="0.5" opacity="0.7"/>
<rect x="66.8" y="474.9" width="3" height="1.6" fill="#ccc" opacity="0.75"/>
<line x1="150.5" y1="489.3" x2="151.7" y2="491.5" stroke="#bbb" stroke-width="0.5" opacity="0.7"/>
<rect x="152.5" y="493.3" width="3" height="1.6" fill="#ccc" opacity="0.75"/>
<line x1="79.7" y1="475.2" x2="78.5" y2="477.4" stroke="#bbb" stroke-width="0.5" opacity="0.7"/>
<line x1="158.3" y1="485.2" x2="159.5" y2="487.4" stroke="#bbb" stroke-width="0.5" opacity="0.7"/>
<line x1="87.6" y1="479.6" x2="86.4" y2="481.8" stroke="#bbb" stroke-width="0.5" opacity="0.7"/>
<rect x="82.6" y="483.6" width="3" height="1.6" fill="#ccc" opacity="0.75"/>
<line x1="166.1" y1="481.2" x2="167.3" y2="483.4" stroke="#bbb" stroke-width="0.5" opacity="0.7"/>
<rect x="168.1" y="485.2" width="3" height="1.6" fill="#ccc" opacity="0.75"/>
<line x1="95.5" y1="484.0" x2="94.3" y2="486.2" stroke="#bbb" stroke-width="0.5" opacity="0.7"/>
<line x1="173.9" y1="477.2" x2="175.1" y2="479.4" stroke="#bbb" stroke-width="0.5" opacity="0.7"/>
<line x1="103.4" y1="488.3" x2="102.2" y2="490.5" stroke="#bbb" stroke-width="0.5" opacity="0.7"/>
<rect x="98.4" y="492.3" width="3" height="1.6" fill="#ccc" opacity="0.75"/>
<line x1="181.7" y1="473.1" x2="182.9" y2="475.3" stroke="#bbb" stroke-width="0.5" opacity="0.7"/>
<rect x="183.7" y="477.1" width="3" height="1.6" fill="#ccc" opacity="0.75"/>
<line x1="111.4" y1="492.7" x2="110.2" y2="494.9" stroke="#bbb" stroke-width="0.5" opacity="0.7"/>
<line x1="189.4" y1="469.1" x2="190.6" y2="471.3" stroke="#bbb" stroke-width="0.5" opacity="0.7"/>
<line x1="119.3" y1="497.0" x2="118.1" y2="499.2" stroke="#bbb" stroke-width="0.5" opacity="0.7"/>
<rect x="114.3" y="501.0" width="3" height="1.6" fill="#ccc" opacity="0.75"/>
<line x1="197.2" y1="465.0" x2="198.4" y2="467.2" stroke="#bbb" stroke-width="0.5" opacity="0.7"/>
<rect x="199.2" y="469.0" width="3" height="1.6" fill="#ccc" opacity="0.75"/>
<line x1="127.2" y1="501.4" x2="126.0" y2="503.6" stroke="#bbb" stroke-width="0.5" opacity="0.7"/>
<line x1="205.0" y1="461.0" x2="206.2" y2="463.2" stroke="#bbb" stroke-width="0.5" opacity="0.7"/>
<rect x="205.0" y="447.1" width="4.5" height="1.3" fill="#ddd" opacity="0.75"/>
<rect x="205.0" y="450.3" width="4.5" height="1.3" fill="#ddd" opacity="0.75"/>
<rect x="205.0" y="453.5" width="4.5" height="1.3" fill="#ddd" opacity="0.75"/>
<rect x="214.0" y="453.1" width="4" height="1.6" fill="#ccc" opacity="0.7"/>
<rect x="84.6" y="488.6" width="5" height="1.6" fill="#ccc" opacity="0.7"/>
<rect x="170.1" y="489.2" width="5" height="1.6" fill="#ccc" opacity="0.7"/>
<text x="18.0" y="389.8" font-size="17.5" fill="#fff" font-family="Liberation Sans, sans-serif">g</text>
<text x="199.4" y="518.8" font-size="11" fill="#f0f0f0" font-family="Liberation Sans, sans-serif">R2000</text>
<rect x="243.9" y="372.2" width="221.9" height="157.5" fill="#000"/>
<clipPath id="clh"><polygon points="353.3,405 430,450 356.5,496 278,450 277,445"/></clipPath>
<g clip-path="url(#clh)">
<rect x="243.9" y="372.2" width="221.9" height="157.5" filter="url(#nH)"/>
</g>
<g filter="url(#bl1)">
<ellipse cx="350.1" cy="442.9" rx="6.1" ry="4.9" fill="url(#gYG)"/>
<ellipse cx="351" cy="446" rx="3.4" ry="2.7" fill="url(#gR)"/>
<ellipse cx="337.3" cy="481.2" rx="6.1" ry="4.9" fill="url(#gYG)"/>
<ellipse cx="335.2" cy="442.9" rx="4.1" ry="3.2" fill="url(#gGd)"/>
<ellipse cx="307.6" cy="436.5" rx="4.1" ry="3.2" fill="url(#gGd)"/>
<ellipse cx="317.1" cy="433.3" rx="3.4" ry="2.7" fill="url(#gO)"/>
<ellipse cx="279.9" cy="450.3" rx="3.4" ry="2.7" fill="url(#gO)"/>
<ellipse cx="337.3" cy="452.4" rx="3.4" ry="2.7" fill="url(#gR)"/>
<ellipse cx="346.9" cy="428" rx="3.4" ry="2.7" fill="url(#gO)"/>
<ellipse cx="351.2" cy="416.3" rx="3.4" ry="2.7" fill="url(#gGd)"/>
<ellipse cx="370.5" cy="467.3" rx="6.1" ry="4.9" fill="url(#gYG)"/>
<ellipse cx="388.6" cy="465.2" rx="3.4" ry="2.7" fill="url(#gR)"/>
<ellipse cx="398.2" cy="463.1" rx="6.8" ry="4.7" fill="url(#gGr)"/>
<ellipse cx="402.4" cy="447.1" rx="2.7" ry="2.2" fill="url(#gO)"/>
<ellipse cx="396" cy="448.2" rx="2.7" ry="2.2" fill="url(#gO)"/>
</g>
<polyline points="276,458 276.7,443.9 353.3,402.4 432.2,448.2 432.2,462" fill="none" stroke="#cfb4b4" stroke-width="0.55" opacity="0.7"/>
<polyline points="276,458 356.5,501.4 432.2,462" fill="none" stroke="#cfb4b4" stroke-width="0.55" opacity="0.7"/>
<line x1="276.0" y1="458.0" x2="274.8" y2="460.2" stroke="#bbb" stroke-width="0.5" opacity="0.7"/>
<line x1="356.5" y1="501.4" x2="357.7" y2="503.6" stroke="#bbb" stroke-width="0.5" opacity="0.7"/>
<line x1="284.1" y1="462.3" x2="282.9" y2="464.5" stroke="#bbb" stroke-width="0.5" opacity="0.7"/>
<rect x="279.1" y="466.3" width="3" height="1.6" fill="#ccc" opacity="0.75"/>
<line x1="364.1" y1="497.5" x2="365.3" y2="499.7" stroke="#bbb" stroke-width="0.5" opacity="0.7"/>
<rect x="366.1" y="501.5" width="3" height="1.6" fill="#ccc" opacity="0.75"/>
<line x1="292.1" y1="466.7" x2="290.9" y2="468.9" stroke="#bbb" stroke-width="0.5" opacity="0.7"/>
<line x1="371.6" y1="493.5" x2="372.8" y2="495.7" stroke="#bbb" stroke-width="0.5" opacity="0.7"/>
<line x1="300.1" y1="471.0" x2="298.9" y2="473.2" stroke="#bbb" stroke-width="0.5" opacity="0.7"/>
<rect x="295.1" y="475.0" width="3" height="1.6" fill="#ccc" opacity="0.75"/>
<line x1="379.2" y1="489.6" x2="380.4" y2="491.8" stroke="#bbb" stroke-width="0.5" opacity="0.7"/>
<rect x="381.2" y="493.6" width="3" height="1.6" fill="#ccc" opacity="0.75"/>
<line x1="308.2" y1="475.4" x2="307.0" y2="477.6" stroke="#bbb" stroke-width="0.5" opacity="0.7"/>
<line x1="386.8" y1="485.6" x2="388.0" y2="487.8" stroke="#bbb" stroke-width="0.5" opacity="0.7"/>
<line x1="316.2" y1="479.7" x2="315.1" y2="481.9" stroke="#bbb" stroke-width="0.5" opacity="0.7"/>
<rect x="311.2" y="483.7" width="3" height="1.6" fill="#ccc" opacity="0.75"/>
<line x1="394.4" y1="481.7" x2="395.6" y2="483.9" stroke="#bbb" stroke-width="0.5" opacity="0.7"/>
<rect x="396.4" y="485.7" width="3" height="1.6" fill="#ccc" opacity="0.75"/>
<line x1="324.3" y1="484.0" x2="323.1" y2="486.2" stroke="#bbb" stroke-width="0.5" opacity="0.7"/>
<line x1="401.9" y1="477.8" x2="403.1" y2="480.0" stroke="#bbb" stroke-width="0.5" opacity="0.7"/>
<line x1="332.4" y1="488.4" x2="331.2" y2="490.6" stroke="#bbb" stroke-width="0.5" opacity="0.7"/>
<rect x="327.4" y="492.4" width="3" height="1.6" fill="#ccc" opacity="0.75"/>
<line x1="409.5" y1="473.8" x2="410.7" y2="476.0" stroke="#bbb" stroke-width="0.5" opacity="0.7"/>
<rect x="411.5" y="477.8" width="3" height="1.6" fill="#ccc" opacity="0.75"/>
<line x1="340.4" y1="492.7" x2="339.2" y2="494.9" stroke="#bbb" stroke-width="0.5" opacity="0.7"/>
<line x1="417.1" y1="469.9" x2="418.3" y2="472.1" stroke="#bbb" stroke-width="0.5" opacity="0.7"/>
<line x1="348.4" y1="497.1" x2="347.2" y2="499.3" stroke="#bbb" stroke-width="0.5" opacity="0.7"/>
<rect x="343.4" y="501.1" width="3" height="1.6" fill="#ccc" opacity="0.75"/>
<line x1="424.6" y1="465.9" x2="425.8" y2="468.1" stroke="#bbb" stroke-width="0.5" opacity="0.7"/>
<rect x="426.6" y="469.9" width="3" height="1.6" fill="#ccc" opacity="0.75"/>
<line x1="356.5" y1="501.4" x2="355.3" y2="503.6" stroke="#bbb" stroke-width="0.5" opacity="0.7"/>
<line x1="432.2" y1="462.0" x2="433.4" y2="464.2" stroke="#bbb" stroke-width="0.5" opacity="0.7"/>
<rect x="433.2" y="448.2" width="4.5" height="1.3" fill="#ddd" opacity="0.75"/>
<rect x="433.2" y="451.4" width="4.5" height="1.3" fill="#ddd" opacity="0.75"/>
<rect x="433.2" y="454.6" width="4.5" height="1.3" fill="#ddd" opacity="0.75"/>
<rect x="442.2" y="454.2" width="4" height="1.6" fill="#ccc" opacity="0.7"/>
<rect x="313.2" y="488.7" width="5" height="1.6" fill="#ccc" opacity="0.7"/>
<rect x="398.4" y="489.7" width="5" height="1.6" fill="#ccc" opacity="0.7"/>
<text x="246.1" y="389.8" font-size="17.5" fill="#fff" font-family="Liberation Sans, sans-serif">h</text>
<text x="427.5" y="518.8" font-size="11" fill="#f0f0f0" font-family="Liberation Sans, sans-serif">R4000</text>
<rect x="471.9" y="372.2" width="219" height="157.5" fill="#000"/>
<clipPath id="cli"><polygon points="579.1,396 660,445 586.3,505 506,447"/></clipPath>
<g clip-path="url(#cli)">
<rect x="471.9" y="372.2" width="219" height="157.5" filter="url(#nI)"/>
</g>
<g filter="url(#bl1)">
<ellipse cx="537.1" cy="446.3" rx="9.5" ry="7.4" fill="url(#gRing)"/>
<ellipse cx="519" cy="455.9" rx="9.5" ry="7.4" fill="url(#gRing)"/>
<ellipse cx="564.7" cy="457.1" rx="8.1" ry="5.4" fill="url(#gRing)"/>
<ellipse cx="539.5" cy="466.7" rx="6.8" ry="5.4" fill="url(#gGd)"/>
<ellipse cx="580.3" cy="407.8" rx="8.1" ry="5.4" fill="url(#gGd)"/>
<ellipse cx="588.8" cy="478.8" rx="8.1" ry="5.4" fill="url(#gGd)"/>
<ellipse cx="593.6" cy="419.9" rx="5.4" ry="4.1" fill="url(#gGd)"/>
<ellipse cx="529.9" cy="458.3" rx="4.1" ry="3.2" fill="url(#gGd)"/>
<ellipse cx="599" cy="418.7" rx="8.1" ry="4.1" fill="url(#gRing)"/>
<ellipse cx="618.3" cy="448.7" rx="8.1" ry="6.8" fill="url(#gRing)"/>
<ellipse cx="625.5" cy="461.9" rx="6.8" ry="5.4" fill="url(#gRing)"/>
<ellipse cx="599" cy="441.5" rx="4.1" ry="3.2" fill="url(#gGd)"/>
<ellipse cx="606.3" cy="486" rx="8.1" ry="5.4" fill="url(#gRing)"/>
<ellipse cx="594.2" cy="481.2" rx="6.8" ry="5.4" fill="url(#gGd)"/>
<ellipse cx="579.8" cy="406.6" rx="6.8" ry="5.4" fill="url(#gGd)"/>
<ellipse cx="630.3" cy="452.3" rx="4.1" ry="3.2" fill="url(#gBr)"/>
</g>
<polyline points="505,459.5 505.8,442.7 579.1,392.2 660.3,443.9 660,456" fill="none" stroke="#cfb4b4" stroke-width="0.55" opacity="0.7"/>
<polyline points="505,459.5 586.3,510 660,456" fill="none" stroke="#cfb4b4" stroke-width="0.55" opacity="0.7"/>
<line x1="505.0" y1="459.5" x2="503.8" y2="461.7" stroke="#bbb" stroke-width="0.5" opacity="0.7"/>
<line x1="586.3" y1="510.0" x2="587.5" y2="512.2" stroke="#bbb" stroke-width="0.5" opacity="0.7"/>
<line x1="513.1" y1="464.6" x2="511.9" y2="466.8" stroke="#bbb" stroke-width="0.5" opacity="0.7"/>
<rect x="508.1" y="468.6" width="3" height="1.6" fill="#ccc" opacity="0.75"/>
<line x1="593.7" y1="504.6" x2="594.9" y2="506.8" stroke="#bbb" stroke-width="0.5" opacity="0.7"/>
<rect x="595.7" y="508.6" width="3" height="1.6" fill="#ccc" opacity="0.75"/>
<line x1="521.3" y1="469.6" x2="520.1" y2="471.8" stroke="#bbb" stroke-width="0.5" opacity="0.7"/>
<line x1="601.0" y1="499.2" x2="602.2" y2="501.4" stroke="#bbb" stroke-width="0.5" opacity="0.7"/>
<line x1="529.4" y1="474.6" x2="528.2" y2="476.8" stroke="#bbb" stroke-width="0.5" opacity="0.7"/>
<rect x="524.4" y="478.6" width="3" height="1.6" fill="#ccc" opacity="0.75"/>
<line x1="608.4" y1="493.8" x2="609.6" y2="496.0" stroke="#bbb" stroke-width="0.5" opacity="0.7"/>
<rect x="610.4" y="497.8" width="3" height="1.6" fill="#ccc" opacity="0.75"/>
<line x1="537.5" y1="479.7" x2="536.3" y2="481.9" stroke="#bbb" stroke-width="0.5" opacity="0.7"/>
<line x1="615.8" y1="488.4" x2="617.0" y2="490.6" stroke="#bbb" stroke-width="0.5" opacity="0.7"/>
<line x1="545.6" y1="484.8" x2="544.4" y2="486.9" stroke="#bbb" stroke-width="0.5" opacity="0.7"/>
<rect x="540.6" y="488.8" width="3" height="1.6" fill="#ccc" opacity="0.75"/>
<line x1="623.1" y1="483.0" x2="624.4" y2="485.2" stroke="#bbb" stroke-width="0.5" opacity="0.7"/>
<rect x="625.1" y="487.0" width="3" height="1.6" fill="#ccc" opacity="0.75"/>
<line x1="553.8" y1="489.8" x2="552.6" y2="492.0" stroke="#bbb" stroke-width="0.5" opacity="0.7"/>
<line x1="630.5" y1="477.6" x2="631.7" y2="479.8" stroke="#bbb" stroke-width="0.5" opacity="0.7"/>
<line x1="561.9" y1="494.9" x2="560.7" y2="497.1" stroke="#bbb" stroke-width="0.5" opacity="0.7"/>
<rect x="556.9" y="498.9" width="3" height="1.6" fill="#ccc" opacity="0.75"/>
<line x1="637.9" y1="472.2" x2="639.1" y2="474.4" stroke="#bbb" stroke-width="0.5" opacity="0.7"/>
<rect x="639.9" y="476.2" width="3" height="1.6" fill="#ccc" opacity="0.75"/>
<line x1="570.0" y1="499.9" x2="568.8" y2="502.1" stroke="#bbb" stroke-width="0.5" opacity="0.7"/>
<line x1="645.3" y1="466.8" x2="646.5" y2="469.0" stroke="#bbb" stroke-width="0.5" opacity="0.7"/>
<line x1="578.2" y1="504.9" x2="577.0" y2="507.1" stroke="#bbb" stroke-width="0.5" opacity="0.7"/>
<rect x="573.2" y="508.9" width="3" height="1.6" fill="#ccc" opacity="0.75"/>
<line x1="652.6" y1="461.4" x2="653.8" y2="463.6" stroke="#bbb" stroke-width="0.5" opacity="0.7"/>
<rect x="654.6" y="465.4" width="3" height="1.6" fill="#ccc" opacity="0.75"/>
<line x1="586.3" y1="510.0" x2="585.1" y2="512.2" stroke="#bbb" stroke-width="0.5" opacity="0.7"/>
<line x1="660.0" y1="456.0" x2="661.2" y2="458.2" stroke="#bbb" stroke-width="0.5" opacity="0.7"/>
<rect x="661.3" y="443.9" width="4.5" height="1.3" fill="#ddd" opacity="0.75"/>
<rect x="661.3" y="447.1" width="4.5" height="1.3" fill="#ddd" opacity="0.75"/>
<rect x="661.3" y="450.3" width="4.5" height="1.3" fill="#ddd" opacity="0.75"/>
<rect x="670.3" y="449.9" width="4" height="1.6" fill="#ccc" opacity="0.7"/>
<rect x="542.6" y="493.8" width="5" height="1.6" fill="#ccc" opacity="0.7"/>
<rect x="627.1" y="491.0" width="5" height="1.6" fill="#ccc" opacity="0.7"/>
<text x="474.09999999999997" y="389.8" font-size="17.5" fill="#fff" font-family="Liberation Sans, sans-serif">i</text>
<text x="655.5" y="518.8" font-size="11" fill="#f0f0f0" font-family="Liberation Sans, sans-serif"></text>

<text x="679.8" y="517.8" font-size="9.3" fill="#b8b8b8" text-anchor="end" font-family="Liberation Sans, sans-serif">N20</text>
<g stroke="#fff" stroke-width="2.2" fill="none" stroke-linecap="square">
 <path d="M622.4,514 V529.7 M623.4,520 H633.8"/>
 <path d="M640.3,515.3 L644.2,518.2 M640.8,520.3 L644.6,523.2 M640.3,529.4 L645.2,524.2"/>
 <path d="M650.5,513.2 L648.2,517.3 M648.8,515.8 H662.6 M650.3,519.4 H661.2 V529.5 M650.3,519.4 V529.5 M646,523.6 H663.3 M650.3,528.3 H661.2 M655.8,519.4 V528"/>
 <path d="M667.6,514 L670.2,516.2 M669.1,517.5 V528.6 L671.5,526.6"/>
 <path d="M673.6,515.3 H689 V529.6 M673.6,515 V524.2 M673.6,519.3 H689 M673.6,523.6 H689 M681.2,515.3 V523.6 M675.6,523.6 V529.7 M675.6,526.1 H689 M675.6,528.6 H689"/>
</g>

</svg>
</body></html>
